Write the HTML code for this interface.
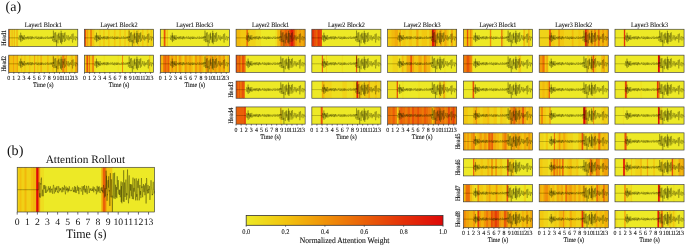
<!DOCTYPE html>
<html><head><meta charset="utf-8"><title>Attention maps</title>
<style>html,body{margin:0;padding:0;background:#fff;overflow:hidden}svg{display:block;filter:blur(0.25px)}text{text-rendering:geometricPrecision;font-family:"Liberation Serif",serif;stroke:#111;stroke-width:0.1px;paint-order:stroke}</style>
</head><body>
<svg width="685" height="246" viewBox="0 0 685 246" font-family="'Liberation Serif', serif" fill="#111">
<defs><linearGradient id="cb" x1="0" x2="1" y1="0" y2="0"><stop offset="0.00" stop-color="#ede926"/><stop offset="0.20" stop-color="#f2c40e"/><stop offset="0.40" stop-color="#f09208"/><stop offset="0.60" stop-color="#ea6008"/><stop offset="0.80" stop-color="#e43008"/><stop offset="1.00" stop-color="#de0808"/></linearGradient><polyline id="wf" points="0,0 1,0 3,0 4,0 6,0 7,0 9,0 10,0 12,0 13,0 15,0 16,0 18,0 19,0 21,0 22,0 24,0 25,0 26,0 28,0 29,0 31,0 32,0 34,0 35,0 37,0 38,0 40,0 41,0 43,0 44,0 46,0 47,0 49,0 50,0 51,0 53,0 54,0 56,0 57,0 59,0 60,0 62,0 63,0 65,0 66,0 68,0 69,0 71,0 72,0 74,0 75,0 76,0 78,0 79,0 81,0 82,0 84,0 85,0 87,0 88,0 90,0 91,0 93,0 94,0 96,0 97,0 99,0 100,0 101,0 103,0 104,0 106,0 107,0 109,0 110,0 112,0 113,0 115,0 116,0 118,0 119,0 121,0 122,0 124,0 125,0 126,0 128,0 129,0 131,0 132,0 134,0 135,0 137,0 138,0 140,0 141,0 143,0 144,0 146,0 147,0 149,19 150,23 151,9 153,-13 154,-29 156,-28 157,-17 159,-7 160,-5 162,-13 163,-15 165,-3 166,17 168,31 169,24 171,9 172,4 174,-60 175,12 176,50 178,-17 179,-30 181,-5 182,-5 184,-19 185,-28 187,-19 188,-5 190,0 191,-4 193,5 194,26 196,36 197,16 199,-10 200,-15 201,4 203,14 204,-5 206,-29 207,-28 209,-4 210,14 212,7 213,-8 215,-4 216,13 218,24 219,15 221,4 222,3 224,6 225,-1 226,-17 228,-31 229,-24 231,-6 232,18 234,22 235,16 237,8 238,6 240,8 241,9 243,4 244,-5 246,-9 247,-5 249,1 250,1 251,-5 253,-11 254,-11 256,-3 257,8 259,14 260,16 262,13 263,4 265,-3 266,-2 268,5 269,5 271,-2 272,-15 274,-17 275,-5 276,5 278,3 279,-6 281,-8 282,0 284,12 285,17 287,15 288,9 290,1 291,-11 293,-19 294,-17 296,-4 297,6 299,4 300,-1 301,-2 303,3 304,5 306,5 307,6 309,11 310,14 312,4 313,-10 315,-17 316,-13 318,-9 319,-10 321,-7 322,5 324,18 325,18 326,7 328,-2 329,3 331,10 332,5 334,-9 335,-18 337,-11 338,-1 340,0 341,-8 343,-14 344,-7 346,0 347,7 349,9 350,12 351,15 353,11 354,1 356,-8 357,-9 359,-6 360,-5 362,-7 363,-7 365,-4 366,1 368,5 369,6 371,10 372,10 374,9 375,5 376,2 378,2 379,-2 381,-9 382,-16 384,-15 385,-7 387,1 388,3 390,0 391,-2 393,0 394,5 396,8 397,10 399,11 400,8 401,3 403,-3 404,-10 406,-15 407,-17 409,-16 410,-9 412,1 413,9 415,12 416,4 418,1 419,3 421,10 422,12 424,8 425,-1 426,-6 428,-4 429,-1 431,-3 432,-10 434,-14 435,-6 437,8 438,18 440,15 441,6 443,3 444,4 446,6 447,2 449,-6 450,-9 451,-7 453,-5 454,-10 456,-13 457,-10 459,3 460,12 462,10 463,3 465,1 466,6 468,11 469,5 471,-8 472,-16 474,-11 475,1 476,8 478,4 479,-1 481,-2 482,5 484,11 485,10 487,1 488,-7 490,-11 491,-12 493,-12 494,-9 496,-3 497,3 499,3 500,2 501,3 503,8 504,13 506,12 507,5 509,-4 510,-6 512,-6 513,-6 515,-8 516,-8 518,-6 519,-1 521,3 522,8 524,8 525,5 526,3 528,5 529,10 531,13 532,11 534,2 535,-8 537,-14 538,-11 540,-6 541,-3 543,-4 544,-6 546,-4 547,-2 549,2 550,5 551,7 553,8 554,10 556,9 557,9 559,3 560,-5 562,-13 563,-17 565,-16 566,-10 568,1 569,10 571,12 572,8 574,3 575,1 576,3 578,6 579,7 581,1 582,-5 584,-9 585,-10 587,-7 588,-2 590,1 591,4 593,6 594,8 596,12 597,13 599,6 600,-6 601,-14 603,-13 604,-6 606,-3 607,-4 609,-8 610,-6 612,-1 613,6 615,10 616,12 618,10 619,2 621,-8 622,-12 624,-5 625,1 626,0 628,-10 629,-16 631,-9 632,1 634,11 635,35 637,17 638,10 640,2 641,-8 643,-16 644,-16 646,-6 647,-85 649,3 650,-8 651,-17 653,-13 654,50 656,19 657,25 659,18 660,2 662,-13 663,-22 665,-23 666,-60 668,-1 669,20 671,41 672,50 674,38 675,8 676,-26 678,-53 679,-66 681,-64 682,-45 684,-12 685,24 687,48 688,50 690,39 691,27 693,100 694,13 696,1 697,-16 699,-28 700,-35 701,-37 703,-35 704,-25 706,-9 707,9 709,25 710,43 712,59 713,64 715,44 716,4 718,-33 719,-49 721,-44 722,-31 724,-21 725,-9 726,7 728,-60 729,24 731,17 732,8 734,1 735,-6 737,-14 738,-16 740,-11 741,-6 743,-6 744,-6 746,6 747,32 749,55 750,56 751,36 753,5 754,-26 756,-56 757,55 759,-83 760,-59 762,-13 763,35 765,67 766,74 768,58 769,23 771,-19 772,-50 774,-56 775,-38 776,-9 778,18 779,40 781,48 782,36 784,7 785,-21 787,-30 788,-22 790,-15 791,-18 793,-19 794,-8 796,7 797,10 799,-2 800,-12 801,-55 803,8 804,22 806,33 807,44 809,48 810,29 812,-13 813,-53 815,-64 816,-47 818,-22 819,-4 821,9 822,23 824,33 825,31 826,21 828,13 829,12 831,11 832,4 834,-2 835,-1 837,4 838,0 840,-16 841,-30 843,-31 844,-19 846,-9 847,-6 849,-4 850,3 851,13 853,20 854,19 856,14 857,8 859,1 860,-6 862,-15 863,-23 865,-28 866,-26 868,-13 869,8 871,25 872,31 874,23 875,10 876,1 878,-5 879,-8 881,-9 882,-6 884,3 885,12 887,15 888,11 890,2 891,-8 893,-16 894,-18 896,-13 897,-4 899,3 900,5 901,5 903,6 904,10 906,13 907,13 909,9 910,1 912,-12 913,-29 915,-43 916,-40 918,-20 919,9 921,34 922,49 924,55 925,51 926,34 928,4 929,-28 931,-49 932,-51 934,-40 935,-25 937,-12 938,0 940,12 941,20 943,22 944,18 946,15 947,13 949,12 950,7 951,-1 953,-8 954,-10 956,-11 957,-13 959,-17 960,-19 962,-19 963,-14 965,-5 966,9 968,23 969,31 971,29 972,18 974,7 975,1 976,-2 978,-6 979,-12 981,-14 982,-10 984,-3 985,1 987,-1 988,-5 990,-7 991,-6 993,-2 994,2 996,9 997,16 999,17 1000,12" fill="none" stroke-linejoin="round" vector-effect="non-scaling-stroke"/><polyline id="wfb" points="0,0 1,0 3,0 4,0 6,0 7,0 9,0 10,0 12,0 13,0 15,0 16,0 18,0 19,0 21,0 22,0 24,0 25,0 26,0 28,0 29,0 31,0 32,0 34,0 35,0 37,0 38,0 40,0 41,0 43,0 44,0 46,0 47,0 49,0 50,0 51,0 53,0 54,0 56,0 57,0 59,0 60,0 62,0 63,0 65,0 66,0 68,0 69,0 71,0 72,0 74,0 75,0 76,0 78,0 79,0 81,0 82,0 84,0 85,0 87,0 88,0 90,0 91,0 93,0 94,0 96,0 97,0 99,0 100,0 101,0 103,0 104,0 106,0 107,0 109,0 110,0 112,0 113,0 115,0 116,0 118,0 119,0 121,0 122,0 124,0 125,0 126,0 128,0 129,0 131,0 132,0 134,0 135,0 137,0 138,0 140,0 141,0 143,0 144,0 146,0 147,0 149,0 150,0 151,0 153,0 154,0 156,0 157,0 159,-33 160,-17 162,25 163,34 165,16 166,27 168,36 169,2 171,-29 172,-23 174,-45 175,-44 176,-54 178,-20 179,21 181,30 182,25 184,11 185,0 187,8 188,29 190,29 191,2 193,-20 194,-17 196,-5 197,-2 199,-8 200,-17 201,-21 203,-6 204,15 206,13 207,-8 209,-15 210,1 212,14 213,13 215,7 216,4 218,1 219,0 221,4 222,8 224,6 225,-3 226,-13 228,-15 229,-8 231,1 232,-2 234,-7 235,1 237,13 238,10 240,-7 241,-15 243,-6 244,8 246,13 247,8 249,-1 250,-3 251,0 253,-1 254,-5 256,2 257,15 259,19 260,4 262,-13 263,-21 265,-21 266,-16 268,-4 269,9 271,17 272,16 274,9 275,-2 276,-9 278,-2 279,10 281,7 282,-6 284,-9 285,0 287,1 288,-12 290,-16 291,-2 293,11 294,9 296,8 297,15 299,15 300,-1 301,-15 303,-15 304,-10 306,-4 307,4 309,8 310,1 312,-7 313,-4 315,2 316,-2 318,-5 319,0 321,6 322,6 324,9 325,12 326,4 328,-11 329,-12 331,0 332,10 334,9 335,0 337,-8 338,-8 340,0 341,1 343,-12 344,-19 346,-9 347,6 349,12 350,17 351,21 353,9 354,-11 356,-14 357,0 359,3 360,-4 362,-3 363,4 365,-1 366,-9 368,-1 369,12 371,7 372,-5 374,-4 375,6 376,6 378,-6 379,-15 381,-11 382,-1 384,4 385,3 387,1 388,2 390,5 391,7 393,5 394,2 396,2 397,4 399,2 400,-4 401,-8 403,-9 404,-10 406,-8 407,1 409,11 410,9 412,1 413,2 415,10 416,3 418,-15 419,-16 421,2 422,13 424,1 425,-12 426,-8 428,7 429,15 431,11 432,3 434,3 435,3 437,-7 438,-18 440,-14 441,3 443,6 444,-7 446,-11 447,6 449,20 450,15 451,4 453,-1 454,-5 456,-9 457,-7 459,-3 460,-4 462,-5 463,1 465,8 466,8 468,5 469,2 471,-6 472,-15 474,-12 475,6 476,22 478,23 479,11 481,-5 482,-16 484,-12 485,1 487,3 488,-11 490,-20 491,-6 493,11 494,12 496,0 497,-4 499,4 500,13 501,10 503,-4 504,-17 506,-12 507,7 509,20 510,15 512,3 513,-3 515,-4 516,-8 518,-14 519,-17 521,-12 522,2 524,14 525,15 526,6 528,-2 529,-5 531,-3 532,3 534,3 535,-3 537,-6 538,-1 540,5 541,4 543,4 544,5 546,0 547,-4 549,1 550,6 551,-2 553,-14 554,-8 556,7 557,12 559,4 560,-4 562,-9 563,-10 565,-5 566,0 568,-2 569,-1 571,6 572,5 574,-1 575,6 576,21 578,19 579,-1 581,-16 582,-17 584,-12 585,0 587,12 588,5 590,-12 591,-11 593,7 594,5 596,-14 597,-15 599,1 600,10 601,10 603,15 604,15 606,3 607,-5 609,-6 610,-9 612,-9 613,1 615,6 616,-5 618,-10 619,3 621,10 622,2 624,6 625,16 626,5 628,-18 629,-21 631,-11 632,-8 634,-3 635,35 637,32 638,2 640,-7 641,28 643,30 644,-20 646,-26 647,-85 649,-2 650,-62 651,-40 653,25 654,50 656,21 657,25 659,10 660,-34 662,-43 663,-16 665,-9 666,-60 668,-2 669,8 671,2 672,25 674,73 675,65 676,-14 678,-74 679,-50 681,11 682,34 684,0 685,-46 687,-45 688,3 690,35 691,27 693,100 694,48 696,30 697,-38 699,-74 700,-38 701,13 703,34 704,39 706,23 707,-34 709,-76 710,-36 712,37 713,42 715,-10 716,-22 718,19 719,34 721,4 722,-12 724,12 725,38 726,25 728,-60 729,-32 731,-17 732,0 734,-15 735,-43 737,-32 738,9 740,21 741,1 743,3 744,24 746,19 747,0 749,13 750,34 751,17 753,-14 754,-23 756,-37 757,55 759,-16 760,55 762,61 763,0 765,-33 766,-18 768,-13 769,-3 771,45 772,53 774,-29 775,-87 776,-23 778,55 779,30 781,-32 782,-26 784,18 785,33 787,23 788,1 790,-35 791,-45 793,2 794,46 796,36 797,16 799,25 800,10 801,-55 803,-90 804,-53 806,8 807,38 809,52 810,61 812,34 813,-30 815,-64 816,-26 818,33 819,39 821,-3 822,-25 824,-5 825,4 826,-18 828,-25 829,8 831,30 832,7 834,-22 835,-14 837,21 838,42 840,21 841,-30 843,-54 844,-12 846,43 847,37 849,-4 850,-8 851,9 853,-13 854,-49 856,-37 857,-3 859,10 860,25 862,48 863,24 865,-39 866,-51 868,1 869,32 871,20 872,26 874,48 875,22 876,-32 878,-40 879,-9 881,-8 882,-39 884,-49 885,-20 887,23 888,48 890,30 891,-11 893,-21 894,9 896,23 897,6 899,10 900,38 901,26 903,-29 904,-52 906,-24 907,-7 909,-15 910,-5 912,25 913,34 915,18 916,-2 918,-19 919,-25 921,-7 922,11 924,-2 925,-19 926,-6 928,18 929,25 931,20 932,4 934,-26 935,-28 937,25 938,62 940,14 941,-52 943,-46 944,-4 946,4 947,1 949,17 950,13 951,-19 953,-21 954,10 956,16 957,-2 959,-2 960,1 962,-16 963,-13 965,26 966,46 968,22 969,3 971,1 972,-18 974,-42 975,-33 976,-12 978,-9 979,-3 981,17 982,25 984,19 985,23 987,18 988,-14 990,-35 991,-17 993,0 994,-1 996,6 997,17 999,9 1000,6" fill="none" stroke-linejoin="round" vector-effect="non-scaling-stroke"/></defs>
<rect width="685" height="246" fill="#fff"/>
<text x="5.60" y="10.80" font-size="14.00" text-anchor="start" style="stroke:none">(a)</text>
<text transform="translate(43.25 26.80) scale(0.909 1)" font-size="6.82" text-anchor="middle">Layer1 Block1</text>
<rect x="8.71" y="29.25" width="2.10" height="17.20" fill="#ec6f08"/><rect x="10.11" y="29.25" width="2.21" height="17.20" fill="#eede1f"/><rect x="11.62" y="29.25" width="1.56" height="17.20" fill="#f1ab0b"/><rect x="12.49" y="29.25" width="2.00" height="17.20" fill="#eede1f"/><rect x="13.78" y="29.25" width="1.56" height="17.20" fill="#f1ab0b"/><rect x="14.65" y="29.25" width="2.53" height="17.20" fill="#eede1f"/><rect x="16.48" y="29.25" width="1.78" height="17.20" fill="#f1ab0b"/><rect x="17.56" y="29.25" width="1.56" height="17.20" fill="#eede1f"/><rect x="18.42" y="29.25" width="59.37" height="17.20" fill="#ede926"/><use href="#wf" stroke="#262600" stroke-opacity="0.75" stroke-width="0.35" transform="translate(8.71 37.85) scale(0.06908 0.08600)"/><rect x="8.71" y="29.25" width="69.08" height="17.20" fill="none" stroke="#3a3a3a" stroke-width="0.65"/>
<rect x="8.71" y="55.15" width="1.46" height="17.20" fill="#ee8408"/><rect x="9.47" y="55.15" width="4.26" height="17.20" fill="#f2c00e"/><rect x="13.03" y="55.15" width="1.78" height="17.20" fill="#f1a20a"/><rect x="14.11" y="55.15" width="3.40" height="17.20" fill="#f2c00e"/><rect x="16.81" y="55.15" width="1.78" height="17.20" fill="#f1a20a"/><rect x="17.88" y="55.15" width="3.94" height="17.20" fill="#efd71a"/><rect x="21.12" y="55.15" width="1.78" height="17.20" fill="#f2c00e"/><rect x="22.20" y="55.15" width="2.86" height="17.20" fill="#efd71a"/><rect x="24.36" y="55.15" width="1.78" height="17.20" fill="#f2c00e"/><rect x="25.44" y="55.15" width="4.48" height="17.20" fill="#efd71a"/><rect x="29.22" y="55.15" width="1.78" height="17.20" fill="#f2c00e"/><rect x="30.30" y="55.15" width="4.48" height="17.20" fill="#efd71a"/><rect x="34.08" y="55.15" width="1.78" height="17.20" fill="#f1a20a"/><rect x="35.15" y="55.15" width="2.86" height="17.20" fill="#efd71a"/><rect x="37.31" y="55.15" width="1.78" height="17.20" fill="#f2c00e"/><rect x="38.39" y="55.15" width="2.86" height="17.20" fill="#efd71a"/><rect x="40.55" y="55.15" width="1.78" height="17.20" fill="#f1a20a"/><rect x="41.63" y="55.15" width="6.10" height="17.20" fill="#efd71a"/><rect x="47.03" y="55.15" width="2.32" height="17.20" fill="#f2c00e"/><rect x="48.65" y="55.15" width="4.48" height="17.20" fill="#efd71a"/><rect x="52.42" y="55.15" width="2.32" height="17.20" fill="#f2c00e"/><rect x="54.04" y="55.15" width="3.40" height="17.20" fill="#efd71a"/><rect x="56.74" y="55.15" width="2.86" height="17.20" fill="#f2c00e"/><rect x="58.90" y="55.15" width="3.94" height="17.20" fill="#efd71a"/><rect x="62.14" y="55.15" width="2.86" height="17.20" fill="#ee8408"/><rect x="64.30" y="55.15" width="2.32" height="17.20" fill="#f2c00e"/><rect x="65.92" y="55.15" width="1.78" height="17.20" fill="#f1a20a"/><rect x="67.00" y="55.15" width="4.48" height="17.20" fill="#efd71a"/><rect x="70.77" y="55.15" width="2.86" height="17.20" fill="#f2c00e"/><rect x="72.93" y="55.15" width="2.86" height="17.20" fill="#efd71a"/><rect x="75.09" y="55.15" width="2.70" height="17.20" fill="#f1a20a"/><use href="#wf" stroke="#262600" stroke-opacity="0.75" stroke-width="0.35" transform="translate(8.71 63.75) scale(0.06908 0.08600)"/><rect x="8.71" y="55.15" width="69.08" height="17.20" fill="none" stroke="#3a3a3a" stroke-width="0.65"/>
<line x1="8.71" y1="72.35" x2="8.71" y2="73.75" stroke="#222" stroke-width="0.65"/>
<text transform="translate(8.71 79.85) scale(0.909 1)" font-size="6.49" text-anchor="middle">0</text>
<line x1="13.79" y1="72.35" x2="13.79" y2="73.75" stroke="#222" stroke-width="0.65"/>
<text transform="translate(13.79 79.85) scale(0.909 1)" font-size="6.49" text-anchor="middle">1</text>
<line x1="18.87" y1="72.35" x2="18.87" y2="73.75" stroke="#222" stroke-width="0.65"/>
<text transform="translate(18.87 79.85) scale(0.909 1)" font-size="6.49" text-anchor="middle">2</text>
<line x1="23.95" y1="72.35" x2="23.95" y2="73.75" stroke="#222" stroke-width="0.65"/>
<text transform="translate(23.95 79.85) scale(0.909 1)" font-size="6.49" text-anchor="middle">3</text>
<line x1="29.03" y1="72.35" x2="29.03" y2="73.75" stroke="#222" stroke-width="0.65"/>
<text transform="translate(29.03 79.85) scale(0.909 1)" font-size="6.49" text-anchor="middle">4</text>
<line x1="34.11" y1="72.35" x2="34.11" y2="73.75" stroke="#222" stroke-width="0.65"/>
<text transform="translate(34.11 79.85) scale(0.909 1)" font-size="6.49" text-anchor="middle">5</text>
<line x1="39.19" y1="72.35" x2="39.19" y2="73.75" stroke="#222" stroke-width="0.65"/>
<text transform="translate(39.19 79.85) scale(0.909 1)" font-size="6.49" text-anchor="middle">6</text>
<line x1="44.27" y1="72.35" x2="44.27" y2="73.75" stroke="#222" stroke-width="0.65"/>
<text transform="translate(44.27 79.85) scale(0.909 1)" font-size="6.49" text-anchor="middle">7</text>
<line x1="49.35" y1="72.35" x2="49.35" y2="73.75" stroke="#222" stroke-width="0.65"/>
<text transform="translate(49.35 79.85) scale(0.909 1)" font-size="6.49" text-anchor="middle">8</text>
<line x1="54.42" y1="72.35" x2="54.42" y2="73.75" stroke="#222" stroke-width="0.65"/>
<text transform="translate(54.42 79.85) scale(0.909 1)" font-size="6.49" text-anchor="middle">9</text>
<line x1="59.50" y1="72.35" x2="59.50" y2="73.75" stroke="#222" stroke-width="0.65"/>
<text transform="translate(59.50 79.85) scale(0.909 1)" font-size="6.49" text-anchor="middle">10</text>
<line x1="64.58" y1="72.35" x2="64.58" y2="73.75" stroke="#222" stroke-width="0.65"/>
<text transform="translate(64.58 79.85) scale(0.909 1)" font-size="6.49" text-anchor="middle">11</text>
<line x1="69.66" y1="72.35" x2="69.66" y2="73.75" stroke="#222" stroke-width="0.65"/>
<text transform="translate(69.66 79.85) scale(0.909 1)" font-size="6.49" text-anchor="middle">12</text>
<line x1="74.74" y1="72.35" x2="74.74" y2="73.75" stroke="#222" stroke-width="0.65"/>
<text transform="translate(74.74 79.85) scale(0.909 1)" font-size="6.49" text-anchor="middle">13</text>
<text transform="translate(43.25 87.05) scale(0.909 1)" font-size="6.71" text-anchor="middle">Time (s)</text>
<text transform="translate(119.03 26.80) scale(0.909 1)" font-size="6.82" text-anchor="middle">Layer1 Block2</text>
<rect x="84.49" y="29.25" width="2.42" height="17.20" fill="#e85208"/><rect x="86.22" y="29.25" width="1.89" height="17.20" fill="#f2c810"/><rect x="87.40" y="29.25" width="1.45" height="17.20" fill="#ef8d08"/><rect x="88.16" y="29.25" width="2.75" height="17.20" fill="#f2c810"/><rect x="90.20" y="29.25" width="2.32" height="17.20" fill="#ee7e08"/><rect x="91.82" y="29.25" width="3.18" height="17.20" fill="#f2c810"/><rect x="94.30" y="29.25" width="3.61" height="17.20" fill="#eede1f"/><rect x="97.21" y="29.25" width="2.86" height="17.20" fill="#eede1f"/><rect x="99.37" y="29.25" width="1.78" height="17.20" fill="#f2c810"/><rect x="100.44" y="29.25" width="3.39" height="17.20" fill="#eede1f"/><rect x="103.14" y="29.25" width="2.32" height="17.20" fill="#f2c810"/><rect x="104.75" y="29.25" width="3.93" height="17.20" fill="#eede1f"/><rect x="107.99" y="29.25" width="2.32" height="17.20" fill="#f2c810"/><rect x="109.60" y="29.25" width="5.01" height="17.20" fill="#eede1f"/><rect x="113.91" y="29.25" width="2.32" height="17.20" fill="#f2c810"/><rect x="115.53" y="29.25" width="4.47" height="17.20" fill="#eede1f"/><rect x="119.30" y="29.25" width="2.32" height="17.20" fill="#f2c810"/><rect x="120.92" y="29.25" width="3.93" height="17.20" fill="#eede1f"/><rect x="124.15" y="29.25" width="2.32" height="17.20" fill="#f2c810"/><rect x="125.77" y="29.25" width="2.86" height="17.20" fill="#eede1f"/><rect x="127.92" y="29.25" width="2.32" height="17.20" fill="#f2c810"/><rect x="129.54" y="29.25" width="4.47" height="17.20" fill="#eede1f"/><rect x="133.31" y="29.25" width="2.32" height="17.20" fill="#f2c810"/><rect x="134.93" y="29.25" width="3.39" height="17.20" fill="#eede1f"/><rect x="137.62" y="29.25" width="2.32" height="17.20" fill="#f2c810"/><rect x="139.24" y="29.25" width="3.39" height="17.20" fill="#eede1f"/><rect x="141.93" y="29.25" width="2.32" height="17.20" fill="#f2c810"/><rect x="143.55" y="29.25" width="3.93" height="17.20" fill="#eede1f"/><rect x="146.78" y="29.25" width="2.32" height="17.20" fill="#f2c810"/><rect x="148.40" y="29.25" width="2.86" height="17.20" fill="#eede1f"/><rect x="150.56" y="29.25" width="2.32" height="17.20" fill="#f2c810"/><rect x="152.17" y="29.25" width="1.40" height="17.20" fill="#eede1f"/><use href="#wf" stroke="#262600" stroke-opacity="0.75" stroke-width="0.35" transform="translate(84.49 37.85) scale(0.06908 0.08600)"/><rect x="84.49" y="29.25" width="69.08" height="17.20" fill="none" stroke="#3a3a3a" stroke-width="0.65"/>
<rect x="84.49" y="55.15" width="2.64" height="17.20" fill="#f2c810"/><rect x="86.43" y="55.15" width="2.32" height="17.20" fill="#e85208"/><rect x="88.05" y="55.15" width="1.45" height="17.20" fill="#f2c810"/><rect x="88.80" y="55.15" width="1.78" height="17.20" fill="#ec6f08"/><rect x="89.88" y="55.15" width="3.18" height="17.20" fill="#f2c810"/><rect x="92.36" y="55.15" width="2.10" height="17.20" fill="#ec6f08"/><rect x="93.76" y="55.15" width="2.53" height="17.20" fill="#eede1f"/><rect x="95.59" y="55.15" width="8.78" height="17.20" fill="#ede926"/><rect x="103.68" y="55.15" width="1.78" height="17.20" fill="#eede1f"/><rect x="104.75" y="55.15" width="13.63" height="17.20" fill="#ede926"/><rect x="117.69" y="55.15" width="1.78" height="17.20" fill="#eede1f"/><rect x="118.76" y="55.15" width="3.93" height="17.20" fill="#ede926"/><rect x="122.00" y="55.15" width="1.78" height="17.20" fill="#ef8d08"/><rect x="123.07" y="55.15" width="26.56" height="17.20" fill="#ede926"/><rect x="148.94" y="55.15" width="1.99" height="17.20" fill="#f2c810"/><rect x="150.23" y="55.15" width="3.34" height="17.20" fill="#ede926"/><use href="#wf" stroke="#262600" stroke-opacity="0.75" stroke-width="0.35" transform="translate(84.49 63.75) scale(0.06908 0.08600)"/><rect x="84.49" y="55.15" width="69.08" height="17.20" fill="none" stroke="#3a3a3a" stroke-width="0.65"/>
<line x1="84.49" y1="72.35" x2="84.49" y2="73.75" stroke="#222" stroke-width="0.65"/>
<text transform="translate(84.49 79.85) scale(0.909 1)" font-size="6.49" text-anchor="middle">0</text>
<line x1="89.57" y1="72.35" x2="89.57" y2="73.75" stroke="#222" stroke-width="0.65"/>
<text transform="translate(89.57 79.85) scale(0.909 1)" font-size="6.49" text-anchor="middle">1</text>
<line x1="94.65" y1="72.35" x2="94.65" y2="73.75" stroke="#222" stroke-width="0.65"/>
<text transform="translate(94.65 79.85) scale(0.909 1)" font-size="6.49" text-anchor="middle">2</text>
<line x1="99.73" y1="72.35" x2="99.73" y2="73.75" stroke="#222" stroke-width="0.65"/>
<text transform="translate(99.73 79.85) scale(0.909 1)" font-size="6.49" text-anchor="middle">3</text>
<line x1="104.81" y1="72.35" x2="104.81" y2="73.75" stroke="#222" stroke-width="0.65"/>
<text transform="translate(104.81 79.85) scale(0.909 1)" font-size="6.49" text-anchor="middle">4</text>
<line x1="109.89" y1="72.35" x2="109.89" y2="73.75" stroke="#222" stroke-width="0.65"/>
<text transform="translate(109.89 79.85) scale(0.909 1)" font-size="6.49" text-anchor="middle">5</text>
<line x1="114.97" y1="72.35" x2="114.97" y2="73.75" stroke="#222" stroke-width="0.65"/>
<text transform="translate(114.97 79.85) scale(0.909 1)" font-size="6.49" text-anchor="middle">6</text>
<line x1="120.05" y1="72.35" x2="120.05" y2="73.75" stroke="#222" stroke-width="0.65"/>
<text transform="translate(120.05 79.85) scale(0.909 1)" font-size="6.49" text-anchor="middle">7</text>
<line x1="125.13" y1="72.35" x2="125.13" y2="73.75" stroke="#222" stroke-width="0.65"/>
<text transform="translate(125.13 79.85) scale(0.909 1)" font-size="6.49" text-anchor="middle">8</text>
<line x1="130.21" y1="72.35" x2="130.21" y2="73.75" stroke="#222" stroke-width="0.65"/>
<text transform="translate(130.21 79.85) scale(0.909 1)" font-size="6.49" text-anchor="middle">9</text>
<line x1="135.29" y1="72.35" x2="135.29" y2="73.75" stroke="#222" stroke-width="0.65"/>
<text transform="translate(135.29 79.85) scale(0.909 1)" font-size="6.49" text-anchor="middle">10</text>
<line x1="140.37" y1="72.35" x2="140.37" y2="73.75" stroke="#222" stroke-width="0.65"/>
<text transform="translate(140.37 79.85) scale(0.909 1)" font-size="6.49" text-anchor="middle">11</text>
<line x1="145.45" y1="72.35" x2="145.45" y2="73.75" stroke="#222" stroke-width="0.65"/>
<text transform="translate(145.45 79.85) scale(0.909 1)" font-size="6.49" text-anchor="middle">12</text>
<line x1="150.53" y1="72.35" x2="150.53" y2="73.75" stroke="#222" stroke-width="0.65"/>
<text transform="translate(150.53 79.85) scale(0.909 1)" font-size="6.49" text-anchor="middle">13</text>
<text transform="translate(119.03 87.05) scale(0.909 1)" font-size="6.71" text-anchor="middle">Time (s)</text>
<text transform="translate(194.82 26.80) scale(0.909 1)" font-size="6.82" text-anchor="middle">Layer1 Block3</text>
<rect x="160.28" y="29.25" width="4.15" height="17.20" fill="#ede926"/><rect x="163.73" y="29.25" width="2.43" height="17.20" fill="#e85208"/><rect x="165.46" y="29.25" width="2.00" height="17.20" fill="#eede1f"/><rect x="166.75" y="29.25" width="2.00" height="17.20" fill="#f2c810"/><rect x="168.05" y="29.25" width="61.31" height="17.20" fill="#ede926"/><use href="#wf" stroke="#262600" stroke-opacity="0.75" stroke-width="0.35" transform="translate(160.28 37.85) scale(0.06908 0.08600)"/><rect x="160.28" y="29.25" width="69.08" height="17.20" fill="none" stroke="#3a3a3a" stroke-width="0.65"/>
<rect x="160.28" y="55.15" width="1.78" height="17.20" fill="#f09c09"/><rect x="161.36" y="55.15" width="2.32" height="17.20" fill="#f2ba0d"/><rect x="162.97" y="55.15" width="2.32" height="17.20" fill="#ee7e08"/><rect x="164.59" y="55.15" width="2.32" height="17.20" fill="#ea6008"/><rect x="166.21" y="55.15" width="2.32" height="17.20" fill="#ee7e08"/><rect x="167.83" y="55.15" width="2.32" height="17.20" fill="#ea6008"/><rect x="169.45" y="55.15" width="2.32" height="17.20" fill="#f2ba0d"/><rect x="171.07" y="55.15" width="2.86" height="17.20" fill="#f09c09"/><rect x="173.23" y="55.15" width="2.86" height="17.20" fill="#f2ba0d"/><rect x="175.39" y="55.15" width="2.32" height="17.20" fill="#f09c09"/><rect x="177.01" y="55.15" width="2.32" height="17.20" fill="#f0d318"/><rect x="178.63" y="55.15" width="2.86" height="17.20" fill="#f09c09"/><rect x="180.78" y="55.15" width="2.32" height="17.20" fill="#f2ba0d"/><rect x="182.40" y="55.15" width="2.86" height="17.20" fill="#f0d318"/><rect x="184.56" y="55.15" width="2.86" height="17.20" fill="#f09c09"/><rect x="186.72" y="55.15" width="3.40" height="17.20" fill="#f2ba0d"/><rect x="189.42" y="55.15" width="1.78" height="17.20" fill="#f09c09"/><rect x="190.50" y="55.15" width="2.86" height="17.20" fill="#f2ba0d"/><rect x="192.66" y="55.15" width="2.86" height="17.20" fill="#f0d318"/><rect x="194.82" y="55.15" width="2.86" height="17.20" fill="#f09c09"/><rect x="196.97" y="55.15" width="2.86" height="17.20" fill="#f2ba0d"/><rect x="199.13" y="55.15" width="2.86" height="17.20" fill="#f09c09"/><rect x="201.29" y="55.15" width="2.86" height="17.20" fill="#f2ba0d"/><rect x="203.45" y="55.15" width="2.86" height="17.20" fill="#f0d318"/><rect x="205.61" y="55.15" width="2.86" height="17.20" fill="#f09c09"/><rect x="207.77" y="55.15" width="2.86" height="17.20" fill="#f2ba0d"/><rect x="209.93" y="55.15" width="2.86" height="17.20" fill="#f09c09"/><rect x="212.09" y="55.15" width="2.86" height="17.20" fill="#f2ba0d"/><rect x="214.24" y="55.15" width="2.86" height="17.20" fill="#f09c09"/><rect x="216.40" y="55.15" width="2.86" height="17.20" fill="#f2ba0d"/><rect x="218.56" y="55.15" width="2.86" height="17.20" fill="#f09c09"/><rect x="220.72" y="55.15" width="2.86" height="17.20" fill="#f2ba0d"/><rect x="222.88" y="55.15" width="2.86" height="17.20" fill="#f09c09"/><rect x="225.04" y="55.15" width="2.86" height="17.20" fill="#f0d318"/><rect x="227.20" y="55.15" width="2.16" height="17.20" fill="#f2ba0d"/><use href="#wf" stroke="#262600" stroke-opacity="0.75" stroke-width="0.35" transform="translate(160.28 63.75) scale(0.06908 0.08600)"/><rect x="160.28" y="55.15" width="69.08" height="17.20" fill="none" stroke="#3a3a3a" stroke-width="0.65"/>
<line x1="160.28" y1="72.35" x2="160.28" y2="73.75" stroke="#222" stroke-width="0.65"/>
<text transform="translate(160.28 79.85) scale(0.909 1)" font-size="6.49" text-anchor="middle">0</text>
<line x1="165.36" y1="72.35" x2="165.36" y2="73.75" stroke="#222" stroke-width="0.65"/>
<text transform="translate(165.36 79.85) scale(0.909 1)" font-size="6.49" text-anchor="middle">1</text>
<line x1="170.43" y1="72.35" x2="170.43" y2="73.75" stroke="#222" stroke-width="0.65"/>
<text transform="translate(170.43 79.85) scale(0.909 1)" font-size="6.49" text-anchor="middle">2</text>
<line x1="175.51" y1="72.35" x2="175.51" y2="73.75" stroke="#222" stroke-width="0.65"/>
<text transform="translate(175.51 79.85) scale(0.909 1)" font-size="6.49" text-anchor="middle">3</text>
<line x1="180.59" y1="72.35" x2="180.59" y2="73.75" stroke="#222" stroke-width="0.65"/>
<text transform="translate(180.59 79.85) scale(0.909 1)" font-size="6.49" text-anchor="middle">4</text>
<line x1="185.67" y1="72.35" x2="185.67" y2="73.75" stroke="#222" stroke-width="0.65"/>
<text transform="translate(185.67 79.85) scale(0.909 1)" font-size="6.49" text-anchor="middle">5</text>
<line x1="190.75" y1="72.35" x2="190.75" y2="73.75" stroke="#222" stroke-width="0.65"/>
<text transform="translate(190.75 79.85) scale(0.909 1)" font-size="6.49" text-anchor="middle">6</text>
<line x1="195.83" y1="72.35" x2="195.83" y2="73.75" stroke="#222" stroke-width="0.65"/>
<text transform="translate(195.83 79.85) scale(0.909 1)" font-size="6.49" text-anchor="middle">7</text>
<line x1="200.91" y1="72.35" x2="200.91" y2="73.75" stroke="#222" stroke-width="0.65"/>
<text transform="translate(200.91 79.85) scale(0.909 1)" font-size="6.49" text-anchor="middle">8</text>
<line x1="205.99" y1="72.35" x2="205.99" y2="73.75" stroke="#222" stroke-width="0.65"/>
<text transform="translate(205.99 79.85) scale(0.909 1)" font-size="6.49" text-anchor="middle">9</text>
<line x1="211.07" y1="72.35" x2="211.07" y2="73.75" stroke="#222" stroke-width="0.65"/>
<text transform="translate(211.07 79.85) scale(0.909 1)" font-size="6.49" text-anchor="middle">10</text>
<line x1="216.15" y1="72.35" x2="216.15" y2="73.75" stroke="#222" stroke-width="0.65"/>
<text transform="translate(216.15 79.85) scale(0.909 1)" font-size="6.49" text-anchor="middle">11</text>
<line x1="221.23" y1="72.35" x2="221.23" y2="73.75" stroke="#222" stroke-width="0.65"/>
<text transform="translate(221.23 79.85) scale(0.909 1)" font-size="6.49" text-anchor="middle">12</text>
<line x1="226.31" y1="72.35" x2="226.31" y2="73.75" stroke="#222" stroke-width="0.65"/>
<text transform="translate(226.31 79.85) scale(0.909 1)" font-size="6.49" text-anchor="middle">13</text>
<text transform="translate(194.82 87.05) scale(0.909 1)" font-size="6.71" text-anchor="middle">Time (s)</text>
<text x="0" y="0" font-size="6.8" text-anchor="middle" transform="translate(3.31 37.85) rotate(-90) scale(0.885 1)" dy="2.3" style="stroke-width:0.13px">Head1</text>
<text x="0" y="0" font-size="6.8" text-anchor="middle" transform="translate(3.31 63.75) rotate(-90) scale(0.885 1)" dy="2.3" style="stroke-width:0.13px">Head2</text>
<text transform="translate(270.60 26.80) scale(0.909 1)" font-size="6.82" text-anchor="middle">Layer2 Block1</text>
<rect x="236.06" y="29.25" width="5.04" height="17.20" fill="#f2ba0d"/><rect x="240.40" y="29.25" width="6.66" height="17.20" fill="#f2c810"/><rect x="246.36" y="29.25" width="2.33" height="17.20" fill="#ec6f08"/><rect x="247.99" y="29.25" width="2.87" height="17.20" fill="#f2c810"/><rect x="250.16" y="29.25" width="6.12" height="17.20" fill="#f0d318"/><rect x="255.58" y="29.25" width="6.12" height="17.20" fill="#eede1f"/><rect x="261.00" y="29.25" width="9.38" height="17.20" fill="#ede926"/><rect x="269.68" y="29.25" width="6.12" height="17.20" fill="#ede926"/><rect x="275.10" y="29.25" width="2.87" height="17.20" fill="#eede1f"/><rect x="277.27" y="29.25" width="3.95" height="17.20" fill="#f2ba0d"/><rect x="280.52" y="29.25" width="2.33" height="17.20" fill="#ec6f08"/><rect x="282.15" y="29.25" width="3.41" height="17.20" fill="#ee7e08"/><rect x="284.86" y="29.25" width="2.87" height="17.20" fill="#ea6008"/><rect x="287.03" y="29.25" width="2.87" height="17.20" fill="#ec6f08"/><rect x="289.20" y="29.25" width="2.33" height="17.20" fill="#e64308"/><rect x="290.82" y="29.25" width="2.87" height="17.20" fill="#e11c08"/><rect x="292.99" y="29.25" width="2.33" height="17.20" fill="#e64308"/><rect x="294.62" y="29.25" width="2.87" height="17.20" fill="#ef8d08"/><rect x="296.79" y="29.25" width="2.87" height="17.20" fill="#f1ab0b"/><rect x="298.96" y="29.25" width="2.87" height="17.20" fill="#f09c09"/><rect x="301.13" y="29.25" width="2.87" height="17.20" fill="#f1ab0b"/><rect x="303.30" y="29.25" width="1.84" height="17.20" fill="#f09c09"/><use href="#wf" stroke="#262600" stroke-opacity="0.75" stroke-width="0.35" transform="translate(236.06 37.85) scale(0.06908 0.08600)"/><rect x="236.06" y="29.25" width="69.08" height="17.20" fill="none" stroke="#3a3a3a" stroke-width="0.65"/>
<rect x="236.06" y="55.15" width="1.57" height="17.20" fill="#e53508"/><rect x="236.93" y="55.15" width="3.09" height="17.20" fill="#ec6f08"/><rect x="239.31" y="55.15" width="1.78" height="17.20" fill="#e85208"/><rect x="240.40" y="55.15" width="2.33" height="17.20" fill="#ef8d08"/><rect x="242.02" y="55.15" width="2.87" height="17.20" fill="#e85208"/><rect x="244.19" y="55.15" width="2.11" height="17.20" fill="#ec6f08"/><rect x="245.60" y="55.15" width="59.54" height="17.20" fill="#ede926"/><use href="#wf" stroke="#262600" stroke-opacity="0.75" stroke-width="0.35" transform="translate(236.06 63.75) scale(0.06908 0.08600)"/><rect x="236.06" y="55.15" width="69.08" height="17.20" fill="none" stroke="#3a3a3a" stroke-width="0.65"/>
<rect x="236.06" y="81.05" width="2.33" height="17.20" fill="#e85208"/><rect x="237.69" y="81.05" width="2.33" height="17.20" fill="#ec6f08"/><rect x="239.31" y="81.05" width="1.78" height="17.20" fill="#e85208"/><rect x="240.40" y="81.05" width="1.78" height="17.20" fill="#ef8d08"/><rect x="241.48" y="81.05" width="2.33" height="17.20" fill="#e85208"/><rect x="243.11" y="81.05" width="2.33" height="17.20" fill="#e85208"/><rect x="244.73" y="81.05" width="60.40" height="17.20" fill="#ede926"/><use href="#wf" stroke="#262600" stroke-opacity="0.75" stroke-width="0.35" transform="translate(236.06 89.65) scale(0.06908 0.08600)"/><rect x="236.06" y="81.05" width="69.08" height="17.20" fill="none" stroke="#3a3a3a" stroke-width="0.65"/>
<rect x="236.06" y="106.94" width="9.16" height="17.20" fill="#ea6008"/><rect x="244.52" y="106.94" width="2.00" height="17.20" fill="#e53508"/><rect x="245.82" y="106.94" width="34.86" height="17.20" fill="#ede926"/><rect x="279.98" y="106.94" width="2.87" height="17.20" fill="#f0d318"/><rect x="282.15" y="106.94" width="22.99" height="17.20" fill="#ede926"/><use href="#wf" stroke="#262600" stroke-opacity="0.75" stroke-width="0.35" transform="translate(236.06 115.54) scale(0.06908 0.08600)"/><rect x="236.06" y="106.94" width="69.08" height="17.20" fill="none" stroke="#3a3a3a" stroke-width="0.65"/>
<line x1="236.06" y1="124.14" x2="236.06" y2="125.54" stroke="#222" stroke-width="0.65"/>
<text transform="translate(236.06 131.64) scale(0.909 1)" font-size="6.49" text-anchor="middle">0</text>
<line x1="241.14" y1="124.14" x2="241.14" y2="125.54" stroke="#222" stroke-width="0.65"/>
<text transform="translate(241.14 131.64) scale(0.909 1)" font-size="6.49" text-anchor="middle">1</text>
<line x1="246.22" y1="124.14" x2="246.22" y2="125.54" stroke="#222" stroke-width="0.65"/>
<text transform="translate(246.22 131.64) scale(0.909 1)" font-size="6.49" text-anchor="middle">2</text>
<line x1="251.30" y1="124.14" x2="251.30" y2="125.54" stroke="#222" stroke-width="0.65"/>
<text transform="translate(251.30 131.64) scale(0.909 1)" font-size="6.49" text-anchor="middle">3</text>
<line x1="256.38" y1="124.14" x2="256.38" y2="125.54" stroke="#222" stroke-width="0.65"/>
<text transform="translate(256.38 131.64) scale(0.909 1)" font-size="6.49" text-anchor="middle">4</text>
<line x1="261.46" y1="124.14" x2="261.46" y2="125.54" stroke="#222" stroke-width="0.65"/>
<text transform="translate(261.46 131.64) scale(0.909 1)" font-size="6.49" text-anchor="middle">5</text>
<line x1="266.54" y1="124.14" x2="266.54" y2="125.54" stroke="#222" stroke-width="0.65"/>
<text transform="translate(266.54 131.64) scale(0.909 1)" font-size="6.49" text-anchor="middle">6</text>
<line x1="271.61" y1="124.14" x2="271.61" y2="125.54" stroke="#222" stroke-width="0.65"/>
<text transform="translate(271.61 131.64) scale(0.909 1)" font-size="6.49" text-anchor="middle">7</text>
<line x1="276.69" y1="124.14" x2="276.69" y2="125.54" stroke="#222" stroke-width="0.65"/>
<text transform="translate(276.69 131.64) scale(0.909 1)" font-size="6.49" text-anchor="middle">8</text>
<line x1="281.77" y1="124.14" x2="281.77" y2="125.54" stroke="#222" stroke-width="0.65"/>
<text transform="translate(281.77 131.64) scale(0.909 1)" font-size="6.49" text-anchor="middle">9</text>
<line x1="286.85" y1="124.14" x2="286.85" y2="125.54" stroke="#222" stroke-width="0.65"/>
<text transform="translate(286.85 131.64) scale(0.909 1)" font-size="6.49" text-anchor="middle">10</text>
<line x1="291.93" y1="124.14" x2="291.93" y2="125.54" stroke="#222" stroke-width="0.65"/>
<text transform="translate(291.93 131.64) scale(0.909 1)" font-size="6.49" text-anchor="middle">11</text>
<line x1="297.01" y1="124.14" x2="297.01" y2="125.54" stroke="#222" stroke-width="0.65"/>
<text transform="translate(297.01 131.64) scale(0.909 1)" font-size="6.49" text-anchor="middle">12</text>
<line x1="302.09" y1="124.14" x2="302.09" y2="125.54" stroke="#222" stroke-width="0.65"/>
<text transform="translate(302.09 131.64) scale(0.909 1)" font-size="6.49" text-anchor="middle">13</text>
<text transform="translate(270.60 138.84) scale(0.909 1)" font-size="6.71" text-anchor="middle">Time (s)</text>
<text transform="translate(346.38 26.80) scale(0.909 1)" font-size="6.82" text-anchor="middle">Layer2 Block2</text>
<rect x="311.84" y="29.25" width="3.09" height="17.20" fill="#e53508"/><rect x="314.23" y="29.25" width="2.87" height="17.20" fill="#e85208"/><rect x="316.40" y="29.25" width="1.78" height="17.20" fill="#ec6f08"/><rect x="317.48" y="29.25" width="2.87" height="17.20" fill="#e53508"/><rect x="319.65" y="29.25" width="1.78" height="17.20" fill="#e85208"/><rect x="320.73" y="29.25" width="1.78" height="17.20" fill="#e53508"/><rect x="321.82" y="29.25" width="59.10" height="17.20" fill="#ede926"/><use href="#wf" stroke="#262600" stroke-opacity="0.75" stroke-width="0.35" transform="translate(311.84 37.85) scale(0.06908 0.08600)"/><rect x="311.84" y="29.25" width="69.08" height="17.20" fill="none" stroke="#3a3a3a" stroke-width="0.65"/>
<rect x="311.84" y="55.15" width="10.68" height="17.20" fill="#ede926"/><rect x="321.82" y="55.15" width="1.78" height="17.20" fill="#e85208"/><rect x="322.90" y="55.15" width="3.74" height="17.20" fill="#ede926"/><rect x="325.94" y="55.15" width="1.46" height="17.20" fill="#f2c810"/><rect x="326.70" y="55.15" width="15.88" height="17.20" fill="#ede926"/><rect x="341.88" y="55.15" width="1.78" height="17.20" fill="#eede1f"/><rect x="342.97" y="55.15" width="13.71" height="17.20" fill="#ede926"/><rect x="355.98" y="55.15" width="1.89" height="17.20" fill="#e85208"/><rect x="357.17" y="55.15" width="23.75" height="17.20" fill="#ede926"/><use href="#wf" stroke="#262600" stroke-opacity="0.75" stroke-width="0.35" transform="translate(311.84 63.75) scale(0.06908 0.08600)"/><rect x="311.84" y="55.15" width="69.08" height="17.20" fill="none" stroke="#3a3a3a" stroke-width="0.65"/>
<rect x="311.84" y="81.05" width="10.68" height="17.20" fill="#ede926"/><rect x="321.82" y="81.05" width="2.33" height="17.20" fill="#f1ab0b"/><rect x="323.45" y="81.05" width="2.33" height="17.20" fill="#f2c810"/><rect x="325.07" y="81.05" width="7.21" height="17.20" fill="#f0d318"/><rect x="331.58" y="81.05" width="11.54" height="17.20" fill="#eede1f"/><rect x="342.42" y="81.05" width="5.04" height="17.20" fill="#f0d318"/><rect x="346.76" y="81.05" width="7.21" height="17.20" fill="#eede1f"/><rect x="353.27" y="81.05" width="3.95" height="17.20" fill="#f0d318"/><rect x="356.52" y="81.05" width="2.33" height="17.20" fill="#e11c08"/><rect x="358.15" y="81.05" width="2.33" height="17.20" fill="#f1ab0b"/><rect x="359.78" y="81.05" width="2.87" height="17.20" fill="#f2c810"/><rect x="361.94" y="81.05" width="2.87" height="17.20" fill="#f0d318"/><rect x="364.11" y="81.05" width="5.04" height="17.20" fill="#f2c810"/><rect x="368.45" y="81.05" width="2.33" height="17.20" fill="#f1ab0b"/><rect x="370.08" y="81.05" width="5.58" height="17.20" fill="#f0d318"/><rect x="374.96" y="81.05" width="2.87" height="17.20" fill="#f2c810"/><rect x="377.13" y="81.05" width="3.80" height="17.20" fill="#f0d318"/><use href="#wf" stroke="#262600" stroke-opacity="0.75" stroke-width="0.35" transform="translate(311.84 89.65) scale(0.06908 0.08600)"/><rect x="311.84" y="81.05" width="69.08" height="17.20" fill="none" stroke="#3a3a3a" stroke-width="0.65"/>
<rect x="311.84" y="106.94" width="9.59" height="17.20" fill="#ede926"/><rect x="320.73" y="106.94" width="2.65" height="17.20" fill="#e85208"/><rect x="322.69" y="106.94" width="58.24" height="17.20" fill="#ede926"/><use href="#wf" stroke="#262600" stroke-opacity="0.75" stroke-width="0.35" transform="translate(311.84 115.54) scale(0.06908 0.08600)"/><rect x="311.84" y="106.94" width="69.08" height="17.20" fill="none" stroke="#3a3a3a" stroke-width="0.65"/>
<line x1="311.84" y1="124.14" x2="311.84" y2="125.54" stroke="#222" stroke-width="0.65"/>
<text transform="translate(311.84 131.64) scale(0.909 1)" font-size="6.49" text-anchor="middle">0</text>
<line x1="316.92" y1="124.14" x2="316.92" y2="125.54" stroke="#222" stroke-width="0.65"/>
<text transform="translate(316.92 131.64) scale(0.909 1)" font-size="6.49" text-anchor="middle">1</text>
<line x1="322.00" y1="124.14" x2="322.00" y2="125.54" stroke="#222" stroke-width="0.65"/>
<text transform="translate(322.00 131.64) scale(0.909 1)" font-size="6.49" text-anchor="middle">2</text>
<line x1="327.08" y1="124.14" x2="327.08" y2="125.54" stroke="#222" stroke-width="0.65"/>
<text transform="translate(327.08 131.64) scale(0.909 1)" font-size="6.49" text-anchor="middle">3</text>
<line x1="332.16" y1="124.14" x2="332.16" y2="125.54" stroke="#222" stroke-width="0.65"/>
<text transform="translate(332.16 131.64) scale(0.909 1)" font-size="6.49" text-anchor="middle">4</text>
<line x1="337.24" y1="124.14" x2="337.24" y2="125.54" stroke="#222" stroke-width="0.65"/>
<text transform="translate(337.24 131.64) scale(0.909 1)" font-size="6.49" text-anchor="middle">5</text>
<line x1="342.32" y1="124.14" x2="342.32" y2="125.54" stroke="#222" stroke-width="0.65"/>
<text transform="translate(342.32 131.64) scale(0.909 1)" font-size="6.49" text-anchor="middle">6</text>
<line x1="347.40" y1="124.14" x2="347.40" y2="125.54" stroke="#222" stroke-width="0.65"/>
<text transform="translate(347.40 131.64) scale(0.909 1)" font-size="6.49" text-anchor="middle">7</text>
<line x1="352.48" y1="124.14" x2="352.48" y2="125.54" stroke="#222" stroke-width="0.65"/>
<text transform="translate(352.48 131.64) scale(0.909 1)" font-size="6.49" text-anchor="middle">8</text>
<line x1="357.56" y1="124.14" x2="357.56" y2="125.54" stroke="#222" stroke-width="0.65"/>
<text transform="translate(357.56 131.64) scale(0.909 1)" font-size="6.49" text-anchor="middle">9</text>
<line x1="362.64" y1="124.14" x2="362.64" y2="125.54" stroke="#222" stroke-width="0.65"/>
<text transform="translate(362.64 131.64) scale(0.909 1)" font-size="6.49" text-anchor="middle">10</text>
<line x1="367.72" y1="124.14" x2="367.72" y2="125.54" stroke="#222" stroke-width="0.65"/>
<text transform="translate(367.72 131.64) scale(0.909 1)" font-size="6.49" text-anchor="middle">11</text>
<line x1="372.79" y1="124.14" x2="372.79" y2="125.54" stroke="#222" stroke-width="0.65"/>
<text transform="translate(372.79 131.64) scale(0.909 1)" font-size="6.49" text-anchor="middle">12</text>
<line x1="377.87" y1="124.14" x2="377.87" y2="125.54" stroke="#222" stroke-width="0.65"/>
<text transform="translate(377.87 131.64) scale(0.909 1)" font-size="6.49" text-anchor="middle">13</text>
<text transform="translate(346.38 138.84) scale(0.909 1)" font-size="6.71" text-anchor="middle">Time (s)</text>
<text transform="translate(422.17 26.80) scale(0.909 1)" font-size="6.82" text-anchor="middle">Layer2 Block3</text>
<rect x="387.62" y="29.25" width="4.58" height="17.20" fill="#f2c810"/><rect x="391.50" y="29.25" width="3.93" height="17.20" fill="#f2ba0d"/><rect x="394.74" y="29.25" width="3.93" height="17.20" fill="#f1ab0b"/><rect x="397.97" y="29.25" width="2.32" height="17.20" fill="#f2c810"/><rect x="399.59" y="29.25" width="2.32" height="17.20" fill="#f1ab0b"/><rect x="401.20" y="29.25" width="1.78" height="17.20" fill="#eede1f"/><rect x="402.28" y="29.25" width="3.93" height="17.20" fill="#f2c810"/><rect x="405.51" y="29.25" width="3.93" height="17.20" fill="#f0d318"/><rect x="408.75" y="29.25" width="3.93" height="17.20" fill="#f2c810"/><rect x="411.98" y="29.25" width="5.01" height="17.20" fill="#f0d318"/><rect x="416.29" y="29.25" width="2.86" height="17.20" fill="#f1ab0b"/><rect x="418.45" y="29.25" width="3.93" height="17.20" fill="#f0d318"/><rect x="421.68" y="29.25" width="6.09" height="17.20" fill="#f2c810"/><rect x="427.07" y="29.25" width="2.86" height="17.20" fill="#f0d318"/><rect x="429.22" y="29.25" width="3.39" height="17.20" fill="#f2ba0d"/><rect x="431.92" y="29.25" width="2.86" height="17.20" fill="#e11c08"/><rect x="434.07" y="29.25" width="2.32" height="17.20" fill="#e85208"/><rect x="435.69" y="29.25" width="2.86" height="17.20" fill="#f1ab0b"/><rect x="437.85" y="29.25" width="2.86" height="17.20" fill="#f2c810"/><rect x="440.00" y="29.25" width="2.86" height="17.20" fill="#f1ab0b"/><rect x="442.16" y="29.25" width="2.86" height="17.20" fill="#f2c810"/><rect x="444.31" y="29.25" width="2.86" height="17.20" fill="#f1ab0b"/><rect x="446.47" y="29.25" width="2.86" height="17.20" fill="#f2c810"/><rect x="448.62" y="29.25" width="2.86" height="17.20" fill="#eede1f"/><rect x="450.78" y="29.25" width="2.86" height="17.20" fill="#f1ab0b"/><rect x="452.93" y="29.25" width="2.86" height="17.20" fill="#f0d318"/><rect x="455.09" y="29.25" width="1.62" height="17.20" fill="#f2ba0d"/><use href="#wf" stroke="#262600" stroke-opacity="0.75" stroke-width="0.35" transform="translate(387.62 37.85) scale(0.06908 0.08600)"/><rect x="387.62" y="29.25" width="69.08" height="17.20" fill="none" stroke="#3a3a3a" stroke-width="0.65"/>
<rect x="387.62" y="55.15" width="5.66" height="17.20" fill="#eede1f"/><rect x="392.58" y="55.15" width="6.09" height="17.20" fill="#f0d318"/><rect x="397.97" y="55.15" width="4.47" height="17.20" fill="#eede1f"/><rect x="401.74" y="55.15" width="2.32" height="17.20" fill="#f2ba0d"/><rect x="403.36" y="55.15" width="3.93" height="17.20" fill="#f0d318"/><rect x="406.59" y="55.15" width="4.47" height="17.20" fill="#f1ab0b"/><rect x="410.36" y="55.15" width="2.32" height="17.20" fill="#e85208"/><rect x="411.98" y="55.15" width="2.86" height="17.20" fill="#f1ab0b"/><rect x="414.14" y="55.15" width="5.01" height="17.20" fill="#f2c810"/><rect x="418.45" y="55.15" width="3.93" height="17.20" fill="#f1ab0b"/><rect x="421.68" y="55.15" width="2.86" height="17.20" fill="#f2c810"/><rect x="423.84" y="55.15" width="2.32" height="17.20" fill="#ef8d08"/><rect x="425.45" y="55.15" width="2.32" height="17.20" fill="#f1ab0b"/><rect x="427.07" y="55.15" width="3.93" height="17.20" fill="#f2ba0d"/><rect x="430.30" y="55.15" width="2.86" height="17.20" fill="#eede1f"/><rect x="432.46" y="55.15" width="5.01" height="17.20" fill="#ede926"/><rect x="436.77" y="55.15" width="1.78" height="17.20" fill="#eede1f"/><rect x="437.85" y="55.15" width="7.17" height="17.20" fill="#ede926"/><rect x="444.31" y="55.15" width="1.78" height="17.20" fill="#eede1f"/><rect x="445.39" y="55.15" width="11.32" height="17.20" fill="#ede926"/><use href="#wf" stroke="#262600" stroke-opacity="0.75" stroke-width="0.35" transform="translate(387.62 63.75) scale(0.06908 0.08600)"/><rect x="387.62" y="55.15" width="69.08" height="17.20" fill="none" stroke="#3a3a3a" stroke-width="0.65"/>
<rect x="387.62" y="81.05" width="9.75" height="17.20" fill="#eede1f"/><rect x="396.68" y="81.05" width="1.99" height="17.20" fill="#e85208"/><rect x="397.97" y="81.05" width="5.01" height="17.20" fill="#ede926"/><rect x="402.28" y="81.05" width="1.78" height="17.20" fill="#eede1f"/><rect x="403.36" y="81.05" width="15.79" height="17.20" fill="#ede926"/><rect x="418.45" y="81.05" width="1.78" height="17.20" fill="#eede1f"/><rect x="419.52" y="81.05" width="20.10" height="17.20" fill="#ede926"/><rect x="438.92" y="81.05" width="2.32" height="17.20" fill="#f2c810"/><rect x="440.54" y="81.05" width="3.39" height="17.20" fill="#eede1f"/><rect x="443.23" y="81.05" width="2.32" height="17.20" fill="#f1ab0b"/><rect x="444.85" y="81.05" width="2.32" height="17.20" fill="#eede1f"/><rect x="446.47" y="81.05" width="10.24" height="17.20" fill="#ede926"/><use href="#wf" stroke="#262600" stroke-opacity="0.75" stroke-width="0.35" transform="translate(387.62 89.65) scale(0.06908 0.08600)"/><rect x="387.62" y="81.05" width="69.08" height="17.20" fill="none" stroke="#3a3a3a" stroke-width="0.65"/>
<rect x="387.62" y="106.94" width="3.50" height="17.20" fill="#eb6c08"/><rect x="390.43" y="106.94" width="2.86" height="17.20" fill="#ed7b08"/><rect x="392.58" y="106.94" width="2.86" height="17.20" fill="#ea5d08"/><rect x="394.74" y="106.94" width="2.86" height="17.20" fill="#ed7b08"/><rect x="396.89" y="106.94" width="2.32" height="17.20" fill="#f0d116"/><rect x="398.51" y="106.94" width="2.32" height="17.20" fill="#ed7b08"/><rect x="400.13" y="106.94" width="2.86" height="17.20" fill="#ea5d08"/><rect x="402.28" y="106.94" width="3.39" height="17.20" fill="#eb6c08"/><rect x="404.98" y="106.94" width="3.39" height="17.20" fill="#ed7b08"/><rect x="407.67" y="106.94" width="2.86" height="17.20" fill="#ea5d08"/><rect x="409.83" y="106.94" width="2.86" height="17.20" fill="#ed7b08"/><rect x="411.98" y="106.94" width="2.86" height="17.20" fill="#e84f08"/><rect x="414.14" y="106.94" width="3.93" height="17.20" fill="#eb6c08"/><rect x="417.37" y="106.94" width="2.32" height="17.20" fill="#e84f08"/><rect x="418.99" y="106.94" width="3.39" height="17.20" fill="#eb6c08"/><rect x="421.68" y="106.94" width="2.86" height="17.20" fill="#ed7b08"/><rect x="423.84" y="106.94" width="2.86" height="17.20" fill="#ea5d08"/><rect x="425.99" y="106.94" width="2.86" height="17.20" fill="#eb6c08"/><rect x="428.15" y="106.94" width="2.86" height="17.20" fill="#ed7b08"/><rect x="430.30" y="106.94" width="2.32" height="17.20" fill="#ef8a08"/><rect x="431.92" y="106.94" width="2.32" height="17.20" fill="#f2c50f"/><rect x="433.53" y="106.94" width="2.86" height="17.20" fill="#ef8a08"/><rect x="435.69" y="106.94" width="2.86" height="17.20" fill="#eb6c08"/><rect x="437.85" y="106.94" width="2.86" height="17.20" fill="#ea5d08"/><rect x="440.00" y="106.94" width="2.86" height="17.20" fill="#ed7b08"/><rect x="442.16" y="106.94" width="2.86" height="17.20" fill="#eb6c08"/><rect x="444.31" y="106.94" width="2.86" height="17.20" fill="#ef8a08"/><rect x="446.47" y="106.94" width="2.32" height="17.20" fill="#ed7b08"/><rect x="448.08" y="106.94" width="2.32" height="17.20" fill="#e64008"/><rect x="449.70" y="106.94" width="2.32" height="17.20" fill="#ed7b08"/><rect x="451.32" y="106.94" width="2.32" height="17.20" fill="#ea5d08"/><rect x="452.93" y="106.94" width="2.32" height="17.20" fill="#e64008"/><rect x="454.55" y="106.94" width="2.16" height="17.20" fill="#ed7b08"/><use href="#wf" stroke="#262600" stroke-opacity="0.75" stroke-width="0.35" transform="translate(387.62 115.54) scale(0.06908 0.08600)"/><rect x="387.62" y="106.94" width="69.08" height="17.20" fill="none" stroke="#3a3a3a" stroke-width="0.65"/>
<line x1="387.62" y1="124.14" x2="387.62" y2="125.54" stroke="#222" stroke-width="0.65"/>
<text transform="translate(387.62 131.64) scale(0.909 1)" font-size="6.49" text-anchor="middle">0</text>
<line x1="392.70" y1="124.14" x2="392.70" y2="125.54" stroke="#222" stroke-width="0.65"/>
<text transform="translate(392.70 131.64) scale(0.909 1)" font-size="6.49" text-anchor="middle">1</text>
<line x1="397.78" y1="124.14" x2="397.78" y2="125.54" stroke="#222" stroke-width="0.65"/>
<text transform="translate(397.78 131.64) scale(0.909 1)" font-size="6.49" text-anchor="middle">2</text>
<line x1="402.86" y1="124.14" x2="402.86" y2="125.54" stroke="#222" stroke-width="0.65"/>
<text transform="translate(402.86 131.64) scale(0.909 1)" font-size="6.49" text-anchor="middle">3</text>
<line x1="407.94" y1="124.14" x2="407.94" y2="125.54" stroke="#222" stroke-width="0.65"/>
<text transform="translate(407.94 131.64) scale(0.909 1)" font-size="6.49" text-anchor="middle">4</text>
<line x1="413.02" y1="124.14" x2="413.02" y2="125.54" stroke="#222" stroke-width="0.65"/>
<text transform="translate(413.02 131.64) scale(0.909 1)" font-size="6.49" text-anchor="middle">5</text>
<line x1="418.10" y1="124.14" x2="418.10" y2="125.54" stroke="#222" stroke-width="0.65"/>
<text transform="translate(418.10 131.64) scale(0.909 1)" font-size="6.49" text-anchor="middle">6</text>
<line x1="423.18" y1="124.14" x2="423.18" y2="125.54" stroke="#222" stroke-width="0.65"/>
<text transform="translate(423.18 131.64) scale(0.909 1)" font-size="6.49" text-anchor="middle">7</text>
<line x1="428.26" y1="124.14" x2="428.26" y2="125.54" stroke="#222" stroke-width="0.65"/>
<text transform="translate(428.26 131.64) scale(0.909 1)" font-size="6.49" text-anchor="middle">8</text>
<line x1="433.34" y1="124.14" x2="433.34" y2="125.54" stroke="#222" stroke-width="0.65"/>
<text transform="translate(433.34 131.64) scale(0.909 1)" font-size="6.49" text-anchor="middle">9</text>
<line x1="438.42" y1="124.14" x2="438.42" y2="125.54" stroke="#222" stroke-width="0.65"/>
<text transform="translate(438.42 131.64) scale(0.909 1)" font-size="6.49" text-anchor="middle">10</text>
<line x1="443.50" y1="124.14" x2="443.50" y2="125.54" stroke="#222" stroke-width="0.65"/>
<text transform="translate(443.50 131.64) scale(0.909 1)" font-size="6.49" text-anchor="middle">11</text>
<line x1="448.58" y1="124.14" x2="448.58" y2="125.54" stroke="#222" stroke-width="0.65"/>
<text transform="translate(448.58 131.64) scale(0.909 1)" font-size="6.49" text-anchor="middle">12</text>
<line x1="453.66" y1="124.14" x2="453.66" y2="125.54" stroke="#222" stroke-width="0.65"/>
<text transform="translate(453.66 131.64) scale(0.909 1)" font-size="6.49" text-anchor="middle">13</text>
<text transform="translate(422.17 138.84) scale(0.909 1)" font-size="6.71" text-anchor="middle">Time (s)</text>
<text x="0" y="0" font-size="6.8" text-anchor="middle" transform="translate(230.66 89.65) rotate(-90) scale(0.885 1)" dy="2.3" style="stroke-width:0.13px">Head3</text>
<text x="0" y="0" font-size="6.8" text-anchor="middle" transform="translate(230.66 115.54) rotate(-90) scale(0.885 1)" dy="2.3" style="stroke-width:0.13px">Head4</text>
<text transform="translate(497.95 26.80) scale(0.909 1)" font-size="6.82" text-anchor="middle">Layer3 Block1</text>
<rect x="463.41" y="29.25" width="4.15" height="17.20" fill="#f2c810"/><rect x="466.86" y="29.25" width="2.10" height="17.20" fill="#e85208"/><rect x="468.27" y="29.25" width="2.32" height="17.20" fill="#f2c810"/><rect x="469.88" y="29.25" width="2.32" height="17.20" fill="#ef8d08"/><rect x="471.50" y="29.25" width="2.32" height="17.20" fill="#f2c810"/><rect x="473.12" y="29.25" width="17.43" height="17.20" fill="#ede926"/><rect x="489.85" y="29.25" width="2.10" height="17.20" fill="#ef8d08"/><rect x="491.26" y="29.25" width="10.63" height="17.20" fill="#ede926"/><rect x="501.19" y="29.25" width="2.00" height="17.20" fill="#ec6f08"/><rect x="502.48" y="29.25" width="2.64" height="17.20" fill="#eede1f"/><rect x="504.42" y="29.25" width="19.59" height="17.20" fill="#ede926"/><rect x="523.31" y="29.25" width="2.32" height="17.20" fill="#f2ba0d"/><rect x="524.93" y="29.25" width="3.94" height="17.20" fill="#eede1f"/><rect x="528.17" y="29.25" width="2.00" height="17.20" fill="#f1ab0b"/><rect x="529.47" y="29.25" width="2.10" height="17.20" fill="#eede1f"/><rect x="530.87" y="29.25" width="1.62" height="17.20" fill="#ede926"/><use href="#wf" stroke="#262600" stroke-opacity="0.75" stroke-width="0.35" transform="translate(463.41 37.85) scale(0.06908 0.08600)"/><rect x="463.41" y="29.25" width="69.08" height="17.20" fill="none" stroke="#3a3a3a" stroke-width="0.65"/>
<rect x="463.41" y="55.15" width="3.94" height="17.20" fill="#ee7e08"/><rect x="466.65" y="55.15" width="2.86" height="17.20" fill="#e85208"/><rect x="468.80" y="55.15" width="2.32" height="17.20" fill="#ec6f08"/><rect x="470.42" y="55.15" width="2.32" height="17.20" fill="#ef8d08"/><rect x="472.04" y="55.15" width="1.78" height="17.20" fill="#f0d318"/><rect x="473.12" y="55.15" width="46.03" height="17.20" fill="#ede926"/><rect x="518.46" y="55.15" width="3.40" height="17.20" fill="#f2c810"/><rect x="521.15" y="55.15" width="11.33" height="17.20" fill="#ede926"/><use href="#wf" stroke="#262600" stroke-opacity="0.75" stroke-width="0.35" transform="translate(463.41 63.75) scale(0.06908 0.08600)"/><rect x="463.41" y="55.15" width="69.08" height="17.20" fill="none" stroke="#3a3a3a" stroke-width="0.65"/>
<rect x="463.41" y="81.05" width="9.87" height="17.20" fill="#ede926"/><rect x="472.58" y="81.05" width="2.32" height="17.20" fill="#e85208"/><rect x="474.20" y="81.05" width="58.29" height="17.20" fill="#ede926"/><use href="#wf" stroke="#262600" stroke-opacity="0.75" stroke-width="0.35" transform="translate(463.41 89.65) scale(0.06908 0.08600)"/><rect x="463.41" y="81.05" width="69.08" height="17.20" fill="none" stroke="#3a3a3a" stroke-width="0.65"/>
<rect x="463.41" y="106.94" width="5.02" height="17.20" fill="#f2c810"/><rect x="467.73" y="106.94" width="6.10" height="17.20" fill="#f0d318"/><rect x="473.12" y="106.94" width="3.40" height="17.20" fill="#f2ba0d"/><rect x="475.82" y="106.94" width="1.78" height="17.20" fill="#ef8d08"/><rect x="476.90" y="106.94" width="3.40" height="17.20" fill="#f2c810"/><rect x="479.60" y="106.94" width="3.94" height="17.20" fill="#f0d318"/><rect x="482.84" y="106.94" width="5.02" height="17.20" fill="#f2c810"/><rect x="487.15" y="106.94" width="2.86" height="17.20" fill="#f2ba0d"/><rect x="489.31" y="106.94" width="5.02" height="17.20" fill="#f0d318"/><rect x="493.63" y="106.94" width="3.94" height="17.20" fill="#f2c810"/><rect x="496.87" y="106.94" width="3.94" height="17.20" fill="#eede1f"/><rect x="500.11" y="106.94" width="2.86" height="17.20" fill="#f2c810"/><rect x="502.27" y="106.94" width="5.02" height="17.20" fill="#f0d318"/><rect x="506.58" y="106.94" width="2.86" height="17.20" fill="#eede1f"/><rect x="508.74" y="106.94" width="2.32" height="17.20" fill="#f2c810"/><rect x="510.36" y="106.94" width="3.94" height="17.20" fill="#ef8d08"/><rect x="513.60" y="106.94" width="1.78" height="17.20" fill="#e85208"/><rect x="514.68" y="106.94" width="2.32" height="17.20" fill="#ef8d08"/><rect x="516.30" y="106.94" width="2.86" height="17.20" fill="#f1ab0b"/><rect x="518.46" y="106.94" width="2.32" height="17.20" fill="#ef8d08"/><rect x="520.08" y="106.94" width="2.86" height="17.20" fill="#f1ab0b"/><rect x="522.23" y="106.94" width="2.32" height="17.20" fill="#e85208"/><rect x="523.85" y="106.94" width="2.86" height="17.20" fill="#f1ab0b"/><rect x="526.01" y="106.94" width="3.40" height="17.20" fill="#f2c810"/><rect x="528.71" y="106.94" width="2.86" height="17.20" fill="#f2ba0d"/><rect x="530.87" y="106.94" width="1.62" height="17.20" fill="#f2c810"/><use href="#wf" stroke="#262600" stroke-opacity="0.75" stroke-width="0.35" transform="translate(463.41 115.54) scale(0.06908 0.08600)"/><rect x="463.41" y="106.94" width="69.08" height="17.20" fill="none" stroke="#3a3a3a" stroke-width="0.65"/>
<rect x="463.41" y="132.84" width="2.86" height="17.20" fill="#f09c09"/><rect x="465.57" y="132.84" width="2.32" height="17.20" fill="#f2ba0d"/><rect x="467.19" y="132.84" width="2.32" height="17.20" fill="#f09c09"/><rect x="468.80" y="132.84" width="2.86" height="17.20" fill="#f2ba0d"/><rect x="470.96" y="132.84" width="2.86" height="17.20" fill="#f09c09"/><rect x="473.12" y="132.84" width="2.32" height="17.20" fill="#ee7e08"/><rect x="474.74" y="132.84" width="3.40" height="17.20" fill="#f2c810"/><rect x="477.44" y="132.84" width="2.86" height="17.20" fill="#f2ba0d"/><rect x="479.60" y="132.84" width="2.86" height="17.20" fill="#f09c09"/><rect x="481.76" y="132.84" width="2.86" height="17.20" fill="#f2ba0d"/><rect x="483.92" y="132.84" width="3.40" height="17.20" fill="#f09c09"/><rect x="486.61" y="132.84" width="2.32" height="17.20" fill="#f2ba0d"/><rect x="488.23" y="132.84" width="2.32" height="17.20" fill="#ea6008"/><rect x="489.85" y="132.84" width="2.32" height="17.20" fill="#ee7e08"/><rect x="491.47" y="132.84" width="2.32" height="17.20" fill="#ea6008"/><rect x="493.09" y="132.84" width="3.40" height="17.20" fill="#f1ab0b"/><rect x="495.79" y="132.84" width="3.94" height="17.20" fill="#f2ba0d"/><rect x="499.03" y="132.84" width="3.94" height="17.20" fill="#f2c810"/><rect x="502.27" y="132.84" width="2.86" height="17.20" fill="#f09c09"/><rect x="504.42" y="132.84" width="2.86" height="17.20" fill="#ee7e08"/><rect x="506.58" y="132.84" width="2.86" height="17.20" fill="#f2ba0d"/><rect x="508.74" y="132.84" width="2.86" height="17.20" fill="#f2c810"/><rect x="510.90" y="132.84" width="2.86" height="17.20" fill="#f1ab0b"/><rect x="513.06" y="132.84" width="2.86" height="17.20" fill="#f09c09"/><rect x="515.22" y="132.84" width="2.86" height="17.20" fill="#f2ba0d"/><rect x="517.38" y="132.84" width="2.86" height="17.20" fill="#f09c09"/><rect x="519.54" y="132.84" width="2.86" height="17.20" fill="#f2ba0d"/><rect x="521.69" y="132.84" width="2.86" height="17.20" fill="#f2c810"/><rect x="523.85" y="132.84" width="2.86" height="17.20" fill="#f1ab0b"/><rect x="526.01" y="132.84" width="2.86" height="17.20" fill="#f2ba0d"/><rect x="528.17" y="132.84" width="2.86" height="17.20" fill="#f09c09"/><rect x="530.33" y="132.84" width="2.16" height="17.20" fill="#f2ba0d"/><use href="#wf" stroke="#262600" stroke-opacity="0.75" stroke-width="0.35" transform="translate(463.41 141.44) scale(0.06908 0.08600)"/><rect x="463.41" y="132.84" width="69.08" height="17.20" fill="none" stroke="#3a3a3a" stroke-width="0.65"/>
<rect x="463.41" y="158.74" width="10.41" height="17.20" fill="#ede926"/><rect x="473.12" y="158.74" width="1.78" height="17.20" fill="#e85208"/><rect x="474.20" y="158.74" width="2.86" height="17.20" fill="#f2c810"/><rect x="476.36" y="158.74" width="5.02" height="17.20" fill="#f0d318"/><rect x="480.68" y="158.74" width="2.86" height="17.20" fill="#f2c810"/><rect x="482.84" y="158.74" width="5.02" height="17.20" fill="#f0d318"/><rect x="487.15" y="158.74" width="2.86" height="17.20" fill="#f2ba0d"/><rect x="489.31" y="158.74" width="2.32" height="17.20" fill="#f0d318"/><rect x="490.93" y="158.74" width="2.86" height="17.20" fill="#f09c09"/><rect x="493.09" y="158.74" width="2.86" height="17.20" fill="#f0d318"/><rect x="495.25" y="158.74" width="2.32" height="17.20" fill="#f09c09"/><rect x="496.87" y="158.74" width="3.94" height="17.20" fill="#f0d318"/><rect x="500.11" y="158.74" width="2.86" height="17.20" fill="#f2c810"/><rect x="502.27" y="158.74" width="5.56" height="17.20" fill="#eede1f"/><rect x="507.12" y="158.74" width="2.10" height="17.20" fill="#e85208"/><rect x="508.53" y="158.74" width="3.07" height="17.20" fill="#f0d318"/><rect x="510.90" y="158.74" width="3.94" height="17.20" fill="#f2c810"/><rect x="514.14" y="158.74" width="18.35" height="17.20" fill="#ede926"/><use href="#wf" stroke="#262600" stroke-opacity="0.75" stroke-width="0.35" transform="translate(463.41 167.34) scale(0.06908 0.08600)"/><rect x="463.41" y="158.74" width="69.08" height="17.20" fill="none" stroke="#3a3a3a" stroke-width="0.65"/>
<rect x="463.41" y="184.64" width="2.86" height="17.20" fill="#f2ba0d"/><rect x="465.57" y="184.64" width="5.02" height="17.20" fill="#ec6f08"/><rect x="469.88" y="184.64" width="2.86" height="17.20" fill="#f2ba0d"/><rect x="472.04" y="184.64" width="2.86" height="17.20" fill="#f0d318"/><rect x="474.20" y="184.64" width="3.94" height="17.20" fill="#eede1f"/><rect x="477.44" y="184.64" width="2.32" height="17.20" fill="#ef8d08"/><rect x="479.06" y="184.64" width="4.48" height="17.20" fill="#f2c810"/><rect x="482.84" y="184.64" width="3.94" height="17.20" fill="#f0d318"/><rect x="486.07" y="184.64" width="3.94" height="17.20" fill="#f2ba0d"/><rect x="489.31" y="184.64" width="1.78" height="17.20" fill="#f09c09"/><rect x="490.39" y="184.64" width="6.10" height="17.20" fill="#f2c810"/><rect x="495.79" y="184.64" width="2.32" height="17.20" fill="#f09c09"/><rect x="497.41" y="184.64" width="5.56" height="17.20" fill="#f2c810"/><rect x="502.27" y="184.64" width="5.02" height="17.20" fill="#f0d318"/><rect x="506.58" y="184.64" width="2.32" height="17.20" fill="#e85208"/><rect x="508.20" y="184.64" width="4.48" height="17.20" fill="#eede1f"/><rect x="511.98" y="184.64" width="12.57" height="17.20" fill="#ede926"/><rect x="523.85" y="184.64" width="2.86" height="17.20" fill="#f0d318"/><rect x="526.01" y="184.64" width="6.48" height="17.20" fill="#ede926"/><use href="#wf" stroke="#262600" stroke-opacity="0.75" stroke-width="0.35" transform="translate(463.41 193.24) scale(0.06908 0.08600)"/><rect x="463.41" y="184.64" width="69.08" height="17.20" fill="none" stroke="#3a3a3a" stroke-width="0.65"/>
<rect x="463.41" y="210.54" width="2.86" height="17.20" fill="#ef8708"/><rect x="465.57" y="210.54" width="3.94" height="17.20" fill="#f1a50a"/><rect x="468.80" y="210.54" width="5.02" height="17.20" fill="#f1b40c"/><rect x="473.12" y="210.54" width="2.86" height="17.20" fill="#f09608"/><rect x="475.28" y="210.54" width="2.86" height="17.20" fill="#f1ce15"/><rect x="477.44" y="210.54" width="2.32" height="17.20" fill="#e63d08"/><rect x="479.06" y="210.54" width="2.32" height="17.20" fill="#f09608"/><rect x="480.68" y="210.54" width="3.94" height="17.20" fill="#f1b40c"/><rect x="483.92" y="210.54" width="2.86" height="17.20" fill="#f09608"/><rect x="486.07" y="210.54" width="2.86" height="17.20" fill="#ed7808"/><rect x="488.23" y="210.54" width="3.40" height="17.20" fill="#f09608"/><rect x="490.93" y="210.54" width="2.32" height="17.20" fill="#e74c08"/><rect x="492.55" y="210.54" width="2.86" height="17.20" fill="#eb6908"/><rect x="494.71" y="210.54" width="2.86" height="17.20" fill="#e63d08"/><rect x="496.87" y="210.54" width="2.86" height="17.20" fill="#e95a08"/><rect x="499.03" y="210.54" width="2.86" height="17.20" fill="#f09608"/><rect x="501.19" y="210.54" width="3.40" height="17.20" fill="#f1a50a"/><rect x="503.88" y="210.54" width="2.86" height="17.20" fill="#e95a08"/><rect x="506.04" y="210.54" width="2.32" height="17.20" fill="#ed7808"/><rect x="507.66" y="210.54" width="2.86" height="17.20" fill="#f1b40c"/><rect x="509.82" y="210.54" width="2.86" height="17.20" fill="#f1a50a"/><rect x="511.98" y="210.54" width="3.94" height="17.20" fill="#f2c30e"/><rect x="515.22" y="210.54" width="2.86" height="17.20" fill="#f1b40c"/><rect x="517.38" y="210.54" width="2.86" height="17.20" fill="#f2c30e"/><rect x="519.54" y="210.54" width="2.86" height="17.20" fill="#f1ce15"/><rect x="521.69" y="210.54" width="2.86" height="17.20" fill="#f1b40c"/><rect x="523.85" y="210.54" width="2.86" height="17.20" fill="#f2c30e"/><rect x="526.01" y="210.54" width="2.86" height="17.20" fill="#f1a50a"/><rect x="528.17" y="210.54" width="2.86" height="17.20" fill="#f2c30e"/><rect x="530.33" y="210.54" width="2.16" height="17.20" fill="#f1a50a"/><use href="#wf" stroke="#262600" stroke-opacity="0.75" stroke-width="0.35" transform="translate(463.41 219.14) scale(0.06908 0.08600)"/><rect x="463.41" y="210.54" width="69.08" height="17.20" fill="none" stroke="#3a3a3a" stroke-width="0.65"/>
<line x1="463.41" y1="227.74" x2="463.41" y2="229.14" stroke="#222" stroke-width="0.65"/>
<text transform="translate(463.41 235.24) scale(0.909 1)" font-size="6.49" text-anchor="middle">0</text>
<line x1="468.49" y1="227.74" x2="468.49" y2="229.14" stroke="#222" stroke-width="0.65"/>
<text transform="translate(468.49 235.24) scale(0.909 1)" font-size="6.49" text-anchor="middle">1</text>
<line x1="473.57" y1="227.74" x2="473.57" y2="229.14" stroke="#222" stroke-width="0.65"/>
<text transform="translate(473.57 235.24) scale(0.909 1)" font-size="6.49" text-anchor="middle">2</text>
<line x1="478.65" y1="227.74" x2="478.65" y2="229.14" stroke="#222" stroke-width="0.65"/>
<text transform="translate(478.65 235.24) scale(0.909 1)" font-size="6.49" text-anchor="middle">3</text>
<line x1="483.73" y1="227.74" x2="483.73" y2="229.14" stroke="#222" stroke-width="0.65"/>
<text transform="translate(483.73 235.24) scale(0.909 1)" font-size="6.49" text-anchor="middle">4</text>
<line x1="488.81" y1="227.74" x2="488.81" y2="229.14" stroke="#222" stroke-width="0.65"/>
<text transform="translate(488.81 235.24) scale(0.909 1)" font-size="6.49" text-anchor="middle">5</text>
<line x1="493.88" y1="227.74" x2="493.88" y2="229.14" stroke="#222" stroke-width="0.65"/>
<text transform="translate(493.88 235.24) scale(0.909 1)" font-size="6.49" text-anchor="middle">6</text>
<line x1="498.96" y1="227.74" x2="498.96" y2="229.14" stroke="#222" stroke-width="0.65"/>
<text transform="translate(498.96 235.24) scale(0.909 1)" font-size="6.49" text-anchor="middle">7</text>
<line x1="504.04" y1="227.74" x2="504.04" y2="229.14" stroke="#222" stroke-width="0.65"/>
<text transform="translate(504.04 235.24) scale(0.909 1)" font-size="6.49" text-anchor="middle">8</text>
<line x1="509.12" y1="227.74" x2="509.12" y2="229.14" stroke="#222" stroke-width="0.65"/>
<text transform="translate(509.12 235.24) scale(0.909 1)" font-size="6.49" text-anchor="middle">9</text>
<line x1="514.20" y1="227.74" x2="514.20" y2="229.14" stroke="#222" stroke-width="0.65"/>
<text transform="translate(514.20 235.24) scale(0.909 1)" font-size="6.49" text-anchor="middle">10</text>
<line x1="519.28" y1="227.74" x2="519.28" y2="229.14" stroke="#222" stroke-width="0.65"/>
<text transform="translate(519.28 235.24) scale(0.909 1)" font-size="6.49" text-anchor="middle">11</text>
<line x1="524.36" y1="227.74" x2="524.36" y2="229.14" stroke="#222" stroke-width="0.65"/>
<text transform="translate(524.36 235.24) scale(0.909 1)" font-size="6.49" text-anchor="middle">12</text>
<line x1="529.44" y1="227.74" x2="529.44" y2="229.14" stroke="#222" stroke-width="0.65"/>
<text transform="translate(529.44 235.24) scale(0.909 1)" font-size="6.49" text-anchor="middle">13</text>
<text transform="translate(497.95 242.44) scale(0.909 1)" font-size="6.71" text-anchor="middle">Time (s)</text>
<text transform="translate(573.73 26.80) scale(0.909 1)" font-size="6.82" text-anchor="middle">Layer3 Block2</text>
<rect x="539.19" y="29.25" width="10.49" height="17.20" fill="#f0d318"/><rect x="548.98" y="29.25" width="2.66" height="17.20" fill="#ea6008"/><rect x="550.94" y="29.25" width="4.18" height="17.20" fill="#f2c810"/><rect x="554.42" y="29.25" width="4.51" height="17.20" fill="#f0d318"/><rect x="558.23" y="29.25" width="2.33" height="17.20" fill="#f09c09"/><rect x="559.86" y="29.25" width="5.05" height="17.20" fill="#f2c810"/><rect x="564.21" y="29.25" width="8.32" height="17.20" fill="#f0d318"/><rect x="571.83" y="29.25" width="2.33" height="17.20" fill="#f2ba0d"/><rect x="573.46" y="29.25" width="5.60" height="17.20" fill="#f0d318"/><rect x="578.35" y="29.25" width="2.88" height="17.20" fill="#f2c810"/><rect x="580.53" y="29.25" width="5.05" height="17.20" fill="#f0d318"/><rect x="584.88" y="29.25" width="2.33" height="17.20" fill="#e32808"/><rect x="586.51" y="29.25" width="2.88" height="17.20" fill="#ee7e08"/><rect x="588.69" y="29.25" width="2.88" height="17.20" fill="#f2ba0d"/><rect x="590.87" y="29.25" width="2.33" height="17.20" fill="#f09c09"/><rect x="592.50" y="29.25" width="2.33" height="17.20" fill="#f2ba0d"/><rect x="594.13" y="29.25" width="2.33" height="17.20" fill="#ee7e08"/><rect x="595.76" y="29.25" width="2.88" height="17.20" fill="#f2ba0d"/><rect x="597.94" y="29.25" width="2.33" height="17.20" fill="#ec6f08"/><rect x="599.57" y="29.25" width="3.42" height="17.20" fill="#f2ba0d"/><rect x="602.29" y="29.25" width="2.33" height="17.20" fill="#f09c09"/><rect x="603.92" y="29.25" width="3.42" height="17.20" fill="#f2ba0d"/><rect x="606.64" y="29.25" width="1.63" height="17.20" fill="#f09c09"/><use href="#wf" stroke="#262600" stroke-opacity="0.75" stroke-width="0.35" transform="translate(539.19 37.85) scale(0.06908 0.08600)"/><rect x="539.19" y="29.25" width="69.08" height="17.20" fill="none" stroke="#3a3a3a" stroke-width="0.65"/>
<rect x="539.19" y="55.15" width="3.96" height="17.20" fill="#f09c09"/><rect x="542.45" y="55.15" width="2.88" height="17.20" fill="#ec6f08"/><rect x="544.63" y="55.15" width="2.33" height="17.20" fill="#f2c810"/><rect x="546.26" y="55.15" width="2.33" height="17.20" fill="#f1ab0b"/><rect x="547.89" y="55.15" width="1.79" height="17.20" fill="#eede1f"/><rect x="548.98" y="55.15" width="38.78" height="17.20" fill="#ede926"/><rect x="587.06" y="55.15" width="2.88" height="17.20" fill="#f0d318"/><rect x="589.23" y="55.15" width="2.88" height="17.20" fill="#eede1f"/><rect x="591.41" y="55.15" width="2.33" height="17.20" fill="#f1ab0b"/><rect x="593.04" y="55.15" width="1.79" height="17.20" fill="#e85208"/><rect x="594.13" y="55.15" width="2.88" height="17.20" fill="#f2c810"/><rect x="596.30" y="55.15" width="5.60" height="17.20" fill="#eede1f"/><rect x="601.20" y="55.15" width="2.88" height="17.20" fill="#f2ba0d"/><rect x="603.38" y="55.15" width="2.33" height="17.20" fill="#f1ab0b"/><rect x="605.01" y="55.15" width="2.33" height="17.20" fill="#f0d318"/><rect x="606.64" y="55.15" width="1.63" height="17.20" fill="#f2c810"/><use href="#wf" stroke="#262600" stroke-opacity="0.75" stroke-width="0.35" transform="translate(539.19 63.75) scale(0.06908 0.08600)"/><rect x="539.19" y="55.15" width="69.08" height="17.20" fill="none" stroke="#3a3a3a" stroke-width="0.65"/>
<rect x="539.19" y="81.05" width="3.96" height="17.20" fill="#f2c810"/><rect x="542.45" y="81.05" width="2.88" height="17.20" fill="#f2ba0d"/><rect x="544.63" y="81.05" width="2.88" height="17.20" fill="#f2c810"/><rect x="546.81" y="81.05" width="2.66" height="17.20" fill="#f2ba0d"/><rect x="548.76" y="81.05" width="1.79" height="17.20" fill="#e85208"/><rect x="549.85" y="81.05" width="44.43" height="17.20" fill="#ede926"/><rect x="593.58" y="81.05" width="1.79" height="17.20" fill="#eede1f"/><rect x="594.67" y="81.05" width="13.60" height="17.20" fill="#ede926"/><use href="#wf" stroke="#262600" stroke-opacity="0.75" stroke-width="0.35" transform="translate(539.19 89.65) scale(0.06908 0.08600)"/><rect x="539.19" y="81.05" width="69.08" height="17.20" fill="none" stroke="#3a3a3a" stroke-width="0.65"/>
<rect x="539.19" y="106.94" width="2.33" height="17.20" fill="#f2c810"/><rect x="540.82" y="106.94" width="2.88" height="17.20" fill="#ef8d08"/><rect x="543.00" y="106.94" width="3.42" height="17.20" fill="#f2c810"/><rect x="545.72" y="106.94" width="4.51" height="17.20" fill="#f0d318"/><rect x="549.53" y="106.94" width="1.79" height="17.20" fill="#ef8d08"/><rect x="550.61" y="106.94" width="33.34" height="17.20" fill="#ede926"/><rect x="583.25" y="106.94" width="2.88" height="17.20" fill="#de0808"/><rect x="585.43" y="106.94" width="2.33" height="17.20" fill="#f1ab0b"/><rect x="587.06" y="106.94" width="6.68" height="17.20" fill="#eede1f"/><rect x="593.04" y="106.94" width="1.79" height="17.20" fill="#ef8d08"/><rect x="594.13" y="106.94" width="7.77" height="17.20" fill="#eede1f"/><rect x="601.20" y="106.94" width="2.88" height="17.20" fill="#f0d318"/><rect x="603.38" y="106.94" width="2.88" height="17.20" fill="#f2c810"/><rect x="605.55" y="106.94" width="2.72" height="17.20" fill="#f0d318"/><use href="#wf" stroke="#262600" stroke-opacity="0.75" stroke-width="0.35" transform="translate(539.19 115.54) scale(0.06908 0.08600)"/><rect x="539.19" y="106.94" width="69.08" height="17.20" fill="none" stroke="#3a3a3a" stroke-width="0.65"/>
<rect x="539.19" y="132.84" width="5.05" height="17.20" fill="#f0d318"/><rect x="543.54" y="132.84" width="2.88" height="17.20" fill="#eede1f"/><rect x="545.72" y="132.84" width="2.88" height="17.20" fill="#f2c810"/><rect x="547.89" y="132.84" width="6.68" height="17.20" fill="#eede1f"/><rect x="553.88" y="132.84" width="1.79" height="17.20" fill="#ec6f08"/><rect x="554.97" y="132.84" width="2.88" height="17.20" fill="#f0d318"/><rect x="557.14" y="132.84" width="2.33" height="17.20" fill="#f2c810"/><rect x="558.77" y="132.84" width="2.33" height="17.20" fill="#f09c09"/><rect x="560.40" y="132.84" width="3.42" height="17.20" fill="#f2c810"/><rect x="563.12" y="132.84" width="2.88" height="17.20" fill="#f1ab0b"/><rect x="565.30" y="132.84" width="2.88" height="17.20" fill="#f2c810"/><rect x="567.48" y="132.84" width="6.14" height="17.20" fill="#f0d318"/><rect x="572.92" y="132.84" width="6.14" height="17.20" fill="#eede1f"/><rect x="578.35" y="132.84" width="3.96" height="17.20" fill="#f2c810"/><rect x="581.62" y="132.84" width="2.33" height="17.20" fill="#e85208"/><rect x="583.25" y="132.84" width="4.51" height="17.20" fill="#f0d318"/><rect x="587.06" y="132.84" width="2.88" height="17.20" fill="#eede1f"/><rect x="589.23" y="132.84" width="2.88" height="17.20" fill="#f2c810"/><rect x="591.41" y="132.84" width="2.88" height="17.20" fill="#f0d318"/><rect x="593.58" y="132.84" width="2.88" height="17.20" fill="#f1ab0b"/><rect x="595.76" y="132.84" width="3.42" height="17.20" fill="#f2c810"/><rect x="598.48" y="132.84" width="1.79" height="17.20" fill="#e85208"/><rect x="599.57" y="132.84" width="2.33" height="17.20" fill="#f1ab0b"/><rect x="601.20" y="132.84" width="2.88" height="17.20" fill="#f2c810"/><rect x="603.38" y="132.84" width="2.88" height="17.20" fill="#f2ba0d"/><rect x="605.55" y="132.84" width="2.72" height="17.20" fill="#f2c810"/><use href="#wf" stroke="#262600" stroke-opacity="0.75" stroke-width="0.35" transform="translate(539.19 141.44) scale(0.06908 0.08600)"/><rect x="539.19" y="132.84" width="69.08" height="17.20" fill="none" stroke="#3a3a3a" stroke-width="0.65"/>
<rect x="539.19" y="158.74" width="3.96" height="17.20" fill="#f2c810"/><rect x="542.45" y="158.74" width="6.14" height="17.20" fill="#f0d318"/><rect x="547.89" y="158.74" width="3.42" height="17.20" fill="#eede1f"/><rect x="550.61" y="158.74" width="2.33" height="17.20" fill="#f1ab0b"/><rect x="552.25" y="158.74" width="1.79" height="17.20" fill="#f2c810"/><rect x="553.33" y="158.74" width="2.33" height="17.20" fill="#ec6f08"/><rect x="554.97" y="158.74" width="2.33" height="17.20" fill="#f1ab0b"/><rect x="556.60" y="158.74" width="2.33" height="17.20" fill="#ef8d08"/><rect x="558.23" y="158.74" width="1.79" height="17.20" fill="#f2c810"/><rect x="559.32" y="158.74" width="1.79" height="17.20" fill="#ec6f08"/><rect x="560.40" y="158.74" width="2.33" height="17.20" fill="#f2c810"/><rect x="562.04" y="158.74" width="2.33" height="17.20" fill="#ec6f08"/><rect x="563.67" y="158.74" width="4.51" height="17.20" fill="#f0d318"/><rect x="567.48" y="158.74" width="2.88" height="17.20" fill="#f2c810"/><rect x="569.65" y="158.74" width="2.88" height="17.20" fill="#f2ba0d"/><rect x="571.83" y="158.74" width="5.05" height="17.20" fill="#f0d318"/><rect x="576.18" y="158.74" width="2.88" height="17.20" fill="#f2c810"/><rect x="578.35" y="158.74" width="7.23" height="17.20" fill="#eede1f"/><rect x="584.88" y="158.74" width="2.88" height="17.20" fill="#f0d318"/><rect x="587.06" y="158.74" width="2.88" height="17.20" fill="#f2c810"/><rect x="589.23" y="158.74" width="1.79" height="17.20" fill="#f1ab0b"/><rect x="590.32" y="158.74" width="1.79" height="17.20" fill="#e85208"/><rect x="591.41" y="158.74" width="2.88" height="17.20" fill="#f1ab0b"/><rect x="593.58" y="158.74" width="2.88" height="17.20" fill="#f2c810"/><rect x="595.76" y="158.74" width="1.57" height="17.20" fill="#ef8d08"/><rect x="596.63" y="158.74" width="1.46" height="17.20" fill="#e85208"/><rect x="597.39" y="158.74" width="1.79" height="17.20" fill="#f1ab0b"/><rect x="598.48" y="158.74" width="1.79" height="17.20" fill="#ec6f08"/><rect x="599.57" y="158.74" width="3.42" height="17.20" fill="#f2c810"/><rect x="602.29" y="158.74" width="2.88" height="17.20" fill="#f1ab0b"/><rect x="604.46" y="158.74" width="2.88" height="17.20" fill="#f09c09"/><rect x="606.64" y="158.74" width="1.63" height="17.20" fill="#f1ab0b"/><use href="#wf" stroke="#262600" stroke-opacity="0.75" stroke-width="0.35" transform="translate(539.19 167.34) scale(0.06908 0.08600)"/><rect x="539.19" y="158.74" width="69.08" height="17.20" fill="none" stroke="#3a3a3a" stroke-width="0.65"/>
<rect x="539.19" y="184.64" width="2.88" height="17.20" fill="#f1ab0b"/><rect x="541.37" y="184.64" width="2.88" height="17.20" fill="#f2ba0d"/><rect x="543.54" y="184.64" width="2.33" height="17.20" fill="#f09c09"/><rect x="545.17" y="184.64" width="3.42" height="17.20" fill="#ef8d08"/><rect x="547.89" y="184.64" width="2.88" height="17.20" fill="#f1ab0b"/><rect x="550.07" y="184.64" width="2.88" height="17.20" fill="#f2c810"/><rect x="552.25" y="184.64" width="2.88" height="17.20" fill="#f2ba0d"/><rect x="554.42" y="184.64" width="2.88" height="17.20" fill="#f0d318"/><rect x="556.60" y="184.64" width="2.88" height="17.20" fill="#f1ab0b"/><rect x="558.77" y="184.64" width="2.88" height="17.20" fill="#f2ba0d"/><rect x="560.95" y="184.64" width="2.88" height="17.20" fill="#f1ab0b"/><rect x="563.12" y="184.64" width="2.88" height="17.20" fill="#f2c810"/><rect x="565.30" y="184.64" width="2.33" height="17.20" fill="#ec6f08"/><rect x="566.93" y="184.64" width="2.88" height="17.20" fill="#f1ab0b"/><rect x="569.11" y="184.64" width="3.42" height="17.20" fill="#f09c09"/><rect x="571.83" y="184.64" width="2.88" height="17.20" fill="#f2ba0d"/><rect x="574.00" y="184.64" width="2.88" height="17.20" fill="#f1ab0b"/><rect x="576.18" y="184.64" width="2.88" height="17.20" fill="#f2c810"/><rect x="578.35" y="184.64" width="2.88" height="17.20" fill="#f1ab0b"/><rect x="580.53" y="184.64" width="2.88" height="17.20" fill="#f2c810"/><rect x="582.71" y="184.64" width="2.88" height="17.20" fill="#f1ab0b"/><rect x="584.88" y="184.64" width="2.88" height="17.20" fill="#f2c810"/><rect x="587.06" y="184.64" width="2.88" height="17.20" fill="#f0d318"/><rect x="589.23" y="184.64" width="2.88" height="17.20" fill="#f2c810"/><rect x="591.41" y="184.64" width="2.88" height="17.20" fill="#f2ba0d"/><rect x="593.58" y="184.64" width="3.42" height="17.20" fill="#f0d318"/><rect x="596.30" y="184.64" width="2.33" height="17.20" fill="#ec6f08"/><rect x="597.94" y="184.64" width="2.88" height="17.20" fill="#f1ab0b"/><rect x="600.11" y="184.64" width="3.96" height="17.20" fill="#f2ba0d"/><rect x="603.38" y="184.64" width="1.79" height="17.20" fill="#e85208"/><rect x="604.46" y="184.64" width="2.88" height="17.20" fill="#f1ab0b"/><rect x="606.64" y="184.64" width="1.63" height="17.20" fill="#f1ab0b"/><use href="#wf" stroke="#262600" stroke-opacity="0.75" stroke-width="0.35" transform="translate(539.19 193.24) scale(0.06908 0.08600)"/><rect x="539.19" y="184.64" width="69.08" height="17.20" fill="none" stroke="#3a3a3a" stroke-width="0.65"/>
<rect x="539.19" y="210.54" width="5.05" height="17.20" fill="#f2c810"/><rect x="543.54" y="210.54" width="5.05" height="17.20" fill="#f0d318"/><rect x="547.89" y="210.54" width="2.88" height="17.20" fill="#eede1f"/><rect x="550.07" y="210.54" width="5.05" height="17.20" fill="#f0d318"/><rect x="554.42" y="210.54" width="2.88" height="17.20" fill="#f2c810"/><rect x="556.60" y="210.54" width="2.88" height="17.20" fill="#f0d318"/><rect x="558.77" y="210.54" width="5.05" height="17.20" fill="#f2ba0d"/><rect x="563.12" y="210.54" width="1.79" height="17.20" fill="#ef8d08"/><rect x="564.21" y="210.54" width="2.88" height="17.20" fill="#f2c810"/><rect x="566.39" y="210.54" width="3.96" height="17.20" fill="#f0d318"/><rect x="569.65" y="210.54" width="2.88" height="17.20" fill="#f1ab0b"/><rect x="571.83" y="210.54" width="5.05" height="17.20" fill="#f2c810"/><rect x="576.18" y="210.54" width="5.05" height="17.20" fill="#f0d318"/><rect x="580.53" y="210.54" width="1.79" height="17.20" fill="#f2c810"/><rect x="581.62" y="210.54" width="2.33" height="17.20" fill="#e53508"/><rect x="583.25" y="210.54" width="2.88" height="17.20" fill="#f2c810"/><rect x="585.43" y="210.54" width="4.51" height="17.20" fill="#eede1f"/><rect x="589.23" y="210.54" width="2.88" height="17.20" fill="#f2c810"/><rect x="591.41" y="210.54" width="2.88" height="17.20" fill="#f0d318"/><rect x="593.58" y="210.54" width="2.88" height="17.20" fill="#f2c810"/><rect x="595.76" y="210.54" width="2.33" height="17.20" fill="#f1ab0b"/><rect x="597.39" y="210.54" width="2.88" height="17.20" fill="#f2c810"/><rect x="599.57" y="210.54" width="3.42" height="17.20" fill="#f2ba0d"/><rect x="602.29" y="210.54" width="2.88" height="17.20" fill="#f2c810"/><rect x="604.46" y="210.54" width="2.88" height="17.20" fill="#f1ab0b"/><rect x="606.64" y="210.54" width="1.63" height="17.20" fill="#f2ba0d"/><use href="#wf" stroke="#262600" stroke-opacity="0.75" stroke-width="0.35" transform="translate(539.19 219.14) scale(0.06908 0.08600)"/><rect x="539.19" y="210.54" width="69.08" height="17.20" fill="none" stroke="#3a3a3a" stroke-width="0.65"/>
<line x1="539.19" y1="227.74" x2="539.19" y2="229.14" stroke="#222" stroke-width="0.65"/>
<text transform="translate(539.19 235.24) scale(0.909 1)" font-size="6.49" text-anchor="middle">0</text>
<line x1="544.27" y1="227.74" x2="544.27" y2="229.14" stroke="#222" stroke-width="0.65"/>
<text transform="translate(544.27 235.24) scale(0.909 1)" font-size="6.49" text-anchor="middle">1</text>
<line x1="549.35" y1="227.74" x2="549.35" y2="229.14" stroke="#222" stroke-width="0.65"/>
<text transform="translate(549.35 235.24) scale(0.909 1)" font-size="6.49" text-anchor="middle">2</text>
<line x1="554.43" y1="227.74" x2="554.43" y2="229.14" stroke="#222" stroke-width="0.65"/>
<text transform="translate(554.43 235.24) scale(0.909 1)" font-size="6.49" text-anchor="middle">3</text>
<line x1="559.51" y1="227.74" x2="559.51" y2="229.14" stroke="#222" stroke-width="0.65"/>
<text transform="translate(559.51 235.24) scale(0.909 1)" font-size="6.49" text-anchor="middle">4</text>
<line x1="564.59" y1="227.74" x2="564.59" y2="229.14" stroke="#222" stroke-width="0.65"/>
<text transform="translate(564.59 235.24) scale(0.909 1)" font-size="6.49" text-anchor="middle">5</text>
<line x1="569.67" y1="227.74" x2="569.67" y2="229.14" stroke="#222" stroke-width="0.65"/>
<text transform="translate(569.67 235.24) scale(0.909 1)" font-size="6.49" text-anchor="middle">6</text>
<line x1="574.75" y1="227.74" x2="574.75" y2="229.14" stroke="#222" stroke-width="0.65"/>
<text transform="translate(574.75 235.24) scale(0.909 1)" font-size="6.49" text-anchor="middle">7</text>
<line x1="579.83" y1="227.74" x2="579.83" y2="229.14" stroke="#222" stroke-width="0.65"/>
<text transform="translate(579.83 235.24) scale(0.909 1)" font-size="6.49" text-anchor="middle">8</text>
<line x1="584.91" y1="227.74" x2="584.91" y2="229.14" stroke="#222" stroke-width="0.65"/>
<text transform="translate(584.91 235.24) scale(0.909 1)" font-size="6.49" text-anchor="middle">9</text>
<line x1="589.99" y1="227.74" x2="589.99" y2="229.14" stroke="#222" stroke-width="0.65"/>
<text transform="translate(589.99 235.24) scale(0.909 1)" font-size="6.49" text-anchor="middle">10</text>
<line x1="595.06" y1="227.74" x2="595.06" y2="229.14" stroke="#222" stroke-width="0.65"/>
<text transform="translate(595.06 235.24) scale(0.909 1)" font-size="6.49" text-anchor="middle">11</text>
<line x1="600.14" y1="227.74" x2="600.14" y2="229.14" stroke="#222" stroke-width="0.65"/>
<text transform="translate(600.14 235.24) scale(0.909 1)" font-size="6.49" text-anchor="middle">12</text>
<line x1="605.22" y1="227.74" x2="605.22" y2="229.14" stroke="#222" stroke-width="0.65"/>
<text transform="translate(605.22 235.24) scale(0.909 1)" font-size="6.49" text-anchor="middle">13</text>
<text transform="translate(573.73 242.44) scale(0.909 1)" font-size="6.71" text-anchor="middle">Time (s)</text>
<text transform="translate(649.51 26.80) scale(0.909 1)" font-size="6.82" text-anchor="middle">Layer3 Block3</text>
<rect x="614.97" y="29.25" width="9.57" height="17.20" fill="#ede926"/><rect x="623.85" y="29.25" width="2.07" height="17.20" fill="#e53508"/><rect x="625.22" y="29.25" width="58.83" height="17.20" fill="#ede926"/><use href="#wf" stroke="#262600" stroke-opacity="0.75" stroke-width="0.35" transform="translate(614.97 37.85) scale(0.06908 0.08600)"/><rect x="614.97" y="29.25" width="69.08" height="17.20" fill="none" stroke="#3a3a3a" stroke-width="0.65"/>
<rect x="614.97" y="55.15" width="43.69" height="17.20" fill="#ede926"/><rect x="657.96" y="55.15" width="2.50" height="17.20" fill="#de0808"/><rect x="659.76" y="55.15" width="2.60" height="17.20" fill="#eede1f"/><rect x="661.66" y="55.15" width="22.39" height="17.20" fill="#ede926"/><use href="#wf" stroke="#262600" stroke-opacity="0.75" stroke-width="0.35" transform="translate(614.97 63.75) scale(0.06908 0.08600)"/><rect x="614.97" y="55.15" width="69.08" height="17.20" fill="none" stroke="#3a3a3a" stroke-width="0.65"/>
<rect x="614.97" y="81.05" width="10.63" height="17.20" fill="#ede926"/><rect x="624.90" y="81.05" width="2.60" height="17.20" fill="#e64308"/><rect x="626.80" y="81.05" width="1.76" height="17.20" fill="#eede1f"/><rect x="627.86" y="81.05" width="13.38" height="17.20" fill="#ede926"/><rect x="640.54" y="81.05" width="1.76" height="17.20" fill="#eede1f"/><rect x="641.59" y="81.05" width="16.02" height="17.20" fill="#ede926"/><rect x="656.91" y="81.05" width="2.28" height="17.20" fill="#e53508"/><rect x="658.49" y="81.05" width="2.28" height="17.20" fill="#f1ab0b"/><rect x="660.08" y="81.05" width="23.98" height="17.20" fill="#ede926"/><use href="#wf" stroke="#262600" stroke-opacity="0.75" stroke-width="0.35" transform="translate(614.97 89.65) scale(0.06908 0.08600)"/><rect x="614.97" y="81.05" width="69.08" height="17.20" fill="none" stroke="#3a3a3a" stroke-width="0.65"/>
<rect x="614.97" y="106.94" width="8.83" height="17.20" fill="#ede926"/><rect x="623.11" y="106.94" width="1.76" height="17.20" fill="#eede1f"/><rect x="624.16" y="106.94" width="34.50" height="17.20" fill="#ede926"/><rect x="657.96" y="106.94" width="2.28" height="17.20" fill="#df1008"/><rect x="659.55" y="106.94" width="2.28" height="17.20" fill="#eede1f"/><rect x="661.13" y="106.94" width="1.76" height="17.20" fill="#f2c810"/><rect x="662.19" y="106.94" width="21.86" height="17.20" fill="#ede926"/><use href="#wf" stroke="#262600" stroke-opacity="0.75" stroke-width="0.35" transform="translate(614.97 115.54) scale(0.06908 0.08600)"/><rect x="614.97" y="106.94" width="69.08" height="17.20" fill="none" stroke="#3a3a3a" stroke-width="0.65"/>
<rect x="614.97" y="132.84" width="10.21" height="17.20" fill="#ede926"/><rect x="624.48" y="132.84" width="2.81" height="17.20" fill="#e85208"/><rect x="626.59" y="132.84" width="35.24" height="17.20" fill="#ede926"/><rect x="661.13" y="132.84" width="1.76" height="17.20" fill="#eede1f"/><rect x="662.19" y="132.84" width="21.86" height="17.20" fill="#ede926"/><use href="#wf" stroke="#262600" stroke-opacity="0.75" stroke-width="0.35" transform="translate(614.97 141.44) scale(0.06908 0.08600)"/><rect x="614.97" y="132.84" width="69.08" height="17.20" fill="none" stroke="#3a3a3a" stroke-width="0.65"/>
<rect x="614.97" y="158.74" width="8.83" height="17.20" fill="#ede926"/><rect x="623.11" y="158.74" width="2.50" height="17.20" fill="#e11c08"/><rect x="624.90" y="158.74" width="2.60" height="17.20" fill="#f0d318"/><rect x="626.80" y="158.74" width="4.93" height="17.20" fill="#eede1f"/><rect x="631.03" y="158.74" width="1.76" height="17.20" fill="#f2c810"/><rect x="632.09" y="158.74" width="3.87" height="17.20" fill="#eede1f"/><rect x="635.25" y="158.74" width="5.98" height="17.20" fill="#f0d318"/><rect x="640.54" y="158.74" width="1.76" height="17.20" fill="#f1ab0b"/><rect x="641.59" y="158.74" width="5.98" height="17.20" fill="#eede1f"/><rect x="646.87" y="158.74" width="1.97" height="17.20" fill="#f1ab0b"/><rect x="648.14" y="158.74" width="5.77" height="17.20" fill="#eede1f"/><rect x="653.21" y="158.74" width="2.28" height="17.20" fill="#f2c810"/><rect x="654.80" y="158.74" width="7.57" height="17.20" fill="#eede1f"/><rect x="661.66" y="158.74" width="2.28" height="17.20" fill="#f2c810"/><rect x="663.25" y="158.74" width="9.15" height="17.20" fill="#eede1f"/><rect x="671.70" y="158.74" width="2.07" height="17.20" fill="#e85208"/><rect x="673.07" y="158.74" width="3.02" height="17.20" fill="#f2c810"/><rect x="675.39" y="158.74" width="3.87" height="17.20" fill="#f0d318"/><rect x="678.56" y="158.74" width="2.81" height="17.20" fill="#f1ab0b"/><rect x="680.67" y="158.74" width="2.28" height="17.20" fill="#f2ba0d"/><rect x="682.26" y="158.74" width="1.80" height="17.20" fill="#f1ab0b"/><use href="#wf" stroke="#262600" stroke-opacity="0.75" stroke-width="0.35" transform="translate(614.97 167.34) scale(0.06908 0.08600)"/><rect x="614.97" y="158.74" width="69.08" height="17.20" fill="none" stroke="#3a3a3a" stroke-width="0.65"/>
<rect x="614.97" y="184.64" width="9.89" height="17.20" fill="#ede926"/><rect x="624.16" y="184.64" width="2.28" height="17.20" fill="#ef8d08"/><rect x="625.75" y="184.64" width="5.98" height="17.20" fill="#eede1f"/><rect x="631.03" y="184.64" width="1.76" height="17.20" fill="#f0d318"/><rect x="632.09" y="184.64" width="26.58" height="17.20" fill="#ede926"/><rect x="657.96" y="184.64" width="2.50" height="17.20" fill="#e11c08"/><rect x="659.76" y="184.64" width="2.07" height="17.20" fill="#f2c810"/><rect x="661.13" y="184.64" width="12.85" height="17.20" fill="#ede926"/><rect x="673.28" y="184.64" width="1.76" height="17.20" fill="#eede1f"/><rect x="674.34" y="184.64" width="9.72" height="17.20" fill="#ede926"/><use href="#wf" stroke="#262600" stroke-opacity="0.75" stroke-width="0.35" transform="translate(614.97 193.24) scale(0.06908 0.08600)"/><rect x="614.97" y="184.64" width="69.08" height="17.20" fill="none" stroke="#3a3a3a" stroke-width="0.65"/>
<rect x="614.97" y="210.54" width="3.02" height="17.20" fill="#eede1f"/><rect x="617.30" y="210.54" width="7.57" height="17.20" fill="#ede926"/><rect x="624.16" y="210.54" width="2.28" height="17.20" fill="#f1ab0b"/><rect x="625.75" y="210.54" width="32.39" height="17.20" fill="#ede926"/><rect x="657.44" y="210.54" width="2.28" height="17.20" fill="#e11c08"/><rect x="659.02" y="210.54" width="2.81" height="17.20" fill="#f2c810"/><rect x="661.13" y="210.54" width="2.28" height="17.20" fill="#ec6f08"/><rect x="662.72" y="210.54" width="7.04" height="17.20" fill="#eede1f"/><rect x="669.05" y="210.54" width="2.28" height="17.20" fill="#f2c810"/><rect x="670.64" y="210.54" width="2.81" height="17.20" fill="#eede1f"/><rect x="672.75" y="210.54" width="2.28" height="17.20" fill="#f2c810"/><rect x="674.34" y="210.54" width="2.81" height="17.20" fill="#eede1f"/><rect x="676.45" y="210.54" width="7.61" height="17.20" fill="#ede926"/><use href="#wf" stroke="#262600" stroke-opacity="0.75" stroke-width="0.35" transform="translate(614.97 219.14) scale(0.06908 0.08600)"/><rect x="614.97" y="210.54" width="69.08" height="17.20" fill="none" stroke="#3a3a3a" stroke-width="0.65"/>
<line x1="614.97" y1="227.74" x2="614.97" y2="229.14" stroke="#222" stroke-width="0.65"/>
<text transform="translate(614.97 235.24) scale(0.909 1)" font-size="6.49" text-anchor="middle">0</text>
<line x1="620.05" y1="227.74" x2="620.05" y2="229.14" stroke="#222" stroke-width="0.65"/>
<text transform="translate(620.05 235.24) scale(0.909 1)" font-size="6.49" text-anchor="middle">1</text>
<line x1="625.13" y1="227.74" x2="625.13" y2="229.14" stroke="#222" stroke-width="0.65"/>
<text transform="translate(625.13 235.24) scale(0.909 1)" font-size="6.49" text-anchor="middle">2</text>
<line x1="630.21" y1="227.74" x2="630.21" y2="229.14" stroke="#222" stroke-width="0.65"/>
<text transform="translate(630.21 235.24) scale(0.909 1)" font-size="6.49" text-anchor="middle">3</text>
<line x1="635.29" y1="227.74" x2="635.29" y2="229.14" stroke="#222" stroke-width="0.65"/>
<text transform="translate(635.29 235.24) scale(0.909 1)" font-size="6.49" text-anchor="middle">4</text>
<line x1="640.37" y1="227.74" x2="640.37" y2="229.14" stroke="#222" stroke-width="0.65"/>
<text transform="translate(640.37 235.24) scale(0.909 1)" font-size="6.49" text-anchor="middle">5</text>
<line x1="645.45" y1="227.74" x2="645.45" y2="229.14" stroke="#222" stroke-width="0.65"/>
<text transform="translate(645.45 235.24) scale(0.909 1)" font-size="6.49" text-anchor="middle">6</text>
<line x1="650.53" y1="227.74" x2="650.53" y2="229.14" stroke="#222" stroke-width="0.65"/>
<text transform="translate(650.53 235.24) scale(0.909 1)" font-size="6.49" text-anchor="middle">7</text>
<line x1="655.61" y1="227.74" x2="655.61" y2="229.14" stroke="#222" stroke-width="0.65"/>
<text transform="translate(655.61 235.24) scale(0.909 1)" font-size="6.49" text-anchor="middle">8</text>
<line x1="660.69" y1="227.74" x2="660.69" y2="229.14" stroke="#222" stroke-width="0.65"/>
<text transform="translate(660.69 235.24) scale(0.909 1)" font-size="6.49" text-anchor="middle">9</text>
<line x1="665.77" y1="227.74" x2="665.77" y2="229.14" stroke="#222" stroke-width="0.65"/>
<text transform="translate(665.77 235.24) scale(0.909 1)" font-size="6.49" text-anchor="middle">10</text>
<line x1="670.85" y1="227.74" x2="670.85" y2="229.14" stroke="#222" stroke-width="0.65"/>
<text transform="translate(670.85 235.24) scale(0.909 1)" font-size="6.49" text-anchor="middle">11</text>
<line x1="675.93" y1="227.74" x2="675.93" y2="229.14" stroke="#222" stroke-width="0.65"/>
<text transform="translate(675.93 235.24) scale(0.909 1)" font-size="6.49" text-anchor="middle">12</text>
<line x1="681.01" y1="227.74" x2="681.01" y2="229.14" stroke="#222" stroke-width="0.65"/>
<text transform="translate(681.01 235.24) scale(0.909 1)" font-size="6.49" text-anchor="middle">13</text>
<text transform="translate(649.51 242.44) scale(0.909 1)" font-size="6.71" text-anchor="middle">Time (s)</text>
<text x="0" y="0" font-size="6.8" text-anchor="middle" transform="translate(458.01 141.44) rotate(-90) scale(0.885 1)" dy="2.3" style="stroke-width:0.13px">Head5</text>
<text x="0" y="0" font-size="6.8" text-anchor="middle" transform="translate(458.01 167.34) rotate(-90) scale(0.885 1)" dy="2.3" style="stroke-width:0.13px">Head6</text>
<text x="0" y="0" font-size="6.8" text-anchor="middle" transform="translate(458.01 193.24) rotate(-90) scale(0.885 1)" dy="2.3" style="stroke-width:0.13px">Head7</text>
<text x="0" y="0" font-size="6.8" text-anchor="middle" transform="translate(458.01 219.14) rotate(-90) scale(0.885 1)" dy="2.3" style="stroke-width:0.13px">Head8</text>
<text x="6.90" y="155.20" font-size="14.20" text-anchor="start" style="stroke:none">(b)</text>
<text x="85.40" y="162.50" font-size="11.30" text-anchor="middle" style="stroke:none">Attention Rollout</text>
<rect x="17.20" y="167.30" width="3.00" height="44.70" fill="#f0d116"/><rect x="19.50" y="167.30" width="2.70" height="44.70" fill="#f2c00e"/><rect x="21.50" y="167.30" width="3.70" height="44.70" fill="#f0d116"/><rect x="24.50" y="167.30" width="2.70" height="44.70" fill="#f1b70c"/><rect x="26.50" y="167.30" width="5.00" height="44.70" fill="#f0d116"/><rect x="30.80" y="167.30" width="2.90" height="44.70" fill="#f2c00e"/><rect x="33.00" y="167.30" width="3.90" height="44.70" fill="#f1b70c"/><rect x="36.20" y="167.30" width="3.00" height="44.70" fill="#de0808"/><rect x="38.50" y="167.30" width="2.40" height="44.70" fill="#f09c09"/><rect x="40.20" y="167.30" width="4.50" height="44.70" fill="#eede1f"/><rect x="44.00" y="167.30" width="58.00" height="44.70" fill="#ede926"/><rect x="101.30" y="167.30" width="2.30" height="44.70" fill="#f1ab0b"/><rect x="102.90" y="167.30" width="3.30" height="44.70" fill="#ea6008"/><rect x="105.50" y="167.30" width="1.80" height="44.70" fill="#f09c09"/><rect x="106.60" y="167.30" width="6.40" height="44.70" fill="#f2c810"/><rect x="112.30" y="167.30" width="42.30" height="44.70" fill="#ede926"/><use href="#wfb" stroke="#262600" stroke-opacity="0.62" stroke-width="0.55" transform="translate(17.20 189.65) scale(0.13740 0.22350)"/><rect x="17.20" y="167.30" width="137.40" height="44.70" fill="none" stroke="#3a3a3a" stroke-width="0.65"/>
<line x1="17.20" y1="212.00" x2="17.20" y2="214.60" stroke="#333" stroke-width="0.7"/>
<text x="17.20" y="225.30" font-size="9.70" text-anchor="middle" style="stroke:none">0</text>
<line x1="27.30" y1="212.00" x2="27.30" y2="214.60" stroke="#333" stroke-width="0.7"/>
<text x="27.30" y="225.30" font-size="9.70" text-anchor="middle" style="stroke:none">1</text>
<line x1="37.41" y1="212.00" x2="37.41" y2="214.60" stroke="#333" stroke-width="0.7"/>
<text x="37.41" y="225.30" font-size="9.70" text-anchor="middle" style="stroke:none">2</text>
<line x1="47.51" y1="212.00" x2="47.51" y2="214.60" stroke="#333" stroke-width="0.7"/>
<text x="47.51" y="225.30" font-size="9.70" text-anchor="middle" style="stroke:none">3</text>
<line x1="57.61" y1="212.00" x2="57.61" y2="214.60" stroke="#333" stroke-width="0.7"/>
<text x="57.61" y="225.30" font-size="9.70" text-anchor="middle" style="stroke:none">4</text>
<line x1="67.71" y1="212.00" x2="67.71" y2="214.60" stroke="#333" stroke-width="0.7"/>
<text x="67.71" y="225.30" font-size="9.70" text-anchor="middle" style="stroke:none">5</text>
<line x1="77.82" y1="212.00" x2="77.82" y2="214.60" stroke="#333" stroke-width="0.7"/>
<text x="77.82" y="225.30" font-size="9.70" text-anchor="middle" style="stroke:none">6</text>
<line x1="87.92" y1="212.00" x2="87.92" y2="214.60" stroke="#333" stroke-width="0.7"/>
<text x="87.92" y="225.30" font-size="9.70" text-anchor="middle" style="stroke:none">7</text>
<line x1="98.02" y1="212.00" x2="98.02" y2="214.60" stroke="#333" stroke-width="0.7"/>
<text x="98.02" y="225.30" font-size="9.70" text-anchor="middle" style="stroke:none">8</text>
<line x1="108.13" y1="212.00" x2="108.13" y2="214.60" stroke="#333" stroke-width="0.7"/>
<text x="108.13" y="225.30" font-size="9.70" text-anchor="middle" style="stroke:none">9</text>
<line x1="118.23" y1="212.00" x2="118.23" y2="214.60" stroke="#333" stroke-width="0.7"/>
<text x="118.23" y="225.30" font-size="9.70" text-anchor="middle" style="stroke:none">10</text>
<line x1="128.33" y1="212.00" x2="128.33" y2="214.60" stroke="#333" stroke-width="0.7"/>
<text x="128.33" y="225.30" font-size="9.70" text-anchor="middle" style="stroke:none">11</text>
<line x1="138.44" y1="212.00" x2="138.44" y2="214.60" stroke="#333" stroke-width="0.7"/>
<text x="138.44" y="225.30" font-size="9.70" text-anchor="middle" style="stroke:none">12</text>
<line x1="148.54" y1="212.00" x2="148.54" y2="214.60" stroke="#333" stroke-width="0.7"/>
<text x="148.54" y="225.30" font-size="9.70" text-anchor="middle" style="stroke:none">13</text>
<text transform="translate(86.30 238.40) scale(0.935 1)" font-size="12.84" text-anchor="middle" style="stroke:none">Time (s)</text>
<rect x="246.20" y="215.50" width="196.80" height="9.80" fill="url(#cb)" stroke="#333" stroke-width="0.8"/>
<line x1="246.20" y1="225.30" x2="246.20" y2="226.70" stroke="#222" stroke-width="0.65"/>
<text transform="translate(246.20 233.80) scale(0.909 1)" font-size="7.04" text-anchor="middle">0.0</text>
<line x1="285.56" y1="225.30" x2="285.56" y2="226.70" stroke="#222" stroke-width="0.65"/>
<text transform="translate(285.56 233.80) scale(0.909 1)" font-size="7.04" text-anchor="middle">0.2</text>
<line x1="324.92" y1="225.30" x2="324.92" y2="226.70" stroke="#222" stroke-width="0.65"/>
<text transform="translate(324.92 233.80) scale(0.909 1)" font-size="7.04" text-anchor="middle">0.4</text>
<line x1="364.28" y1="225.30" x2="364.28" y2="226.70" stroke="#222" stroke-width="0.65"/>
<text transform="translate(364.28 233.80) scale(0.909 1)" font-size="7.04" text-anchor="middle">0.6</text>
<line x1="403.64" y1="225.30" x2="403.64" y2="226.70" stroke="#222" stroke-width="0.65"/>
<text transform="translate(403.64 233.80) scale(0.909 1)" font-size="7.04" text-anchor="middle">0.8</text>
<line x1="443.00" y1="225.30" x2="443.00" y2="226.70" stroke="#222" stroke-width="0.65"/>
<text transform="translate(443.00 233.80) scale(0.909 1)" font-size="7.04" text-anchor="middle">1.0</text>
<text transform="translate(344.60 243.00) scale(0.926 1)" font-size="8.21" text-anchor="middle">Normalized Attention Weight</text>
</svg>
</body></html>
